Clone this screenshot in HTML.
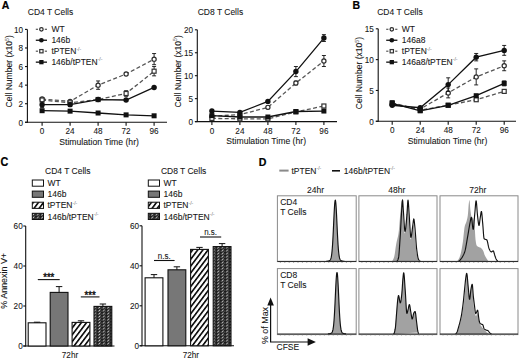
<!DOCTYPE html>
<html><head><meta charset="utf-8"><style>
html,body{margin:0;padding:0;background:#fff;width:520px;height:358px;overflow:hidden}
svg text{font-family:"Liberation Sans", sans-serif}
</style></head><body>
<svg width="520" height="358" viewBox="0 0 520 358" style="display:block">
<defs>
<pattern id="hatch" patternUnits="userSpaceOnUse" width="4.1" height="4.1" patternTransform="rotate(37)">
<rect width="4.1" height="4.1" fill="#fff"/><rect x="0" y="0" width="1.7" height="4.1" fill="#111"/></pattern>
<pattern id="check" patternUnits="userSpaceOnUse" width="4.4" height="3.0" x="0.5" y="0">
<rect width="4.4" height="3.0" fill="#1c1c1c"/><path d="M0.6,2.5 L1.8,2.5 L3.6,0.6 L2.4,0.6 Z" fill="#d8d8d8"/><rect x="3.3" y="1.7" width="0.8" height="0.8" fill="#9a9a9a"/></pattern>
</defs>
<rect width="520" height="358" fill="#fff"/>
<g font-family="Liberation Sans, sans-serif">
<text transform="translate(1.80,8.90) scale(1,1.0)" font-size="10.5" text-anchor="start" font-weight="bold" fill="#000" stroke="#000" stroke-width="0.2">A</text>
<text transform="translate(352.60,8.90) scale(1,1.0)" font-size="10.5" text-anchor="start" font-weight="bold" fill="#000" stroke="#000" stroke-width="0.2">B</text>
<text transform="translate(0.60,165.80) scale(1,1.1)" font-size="10.8" text-anchor="start" font-weight="bold" fill="#000" stroke="#000" stroke-width="0.2">C</text>
<text transform="translate(258.80,165.60) scale(1,1.1)" font-size="10.6" text-anchor="start" font-weight="bold" fill="#000" stroke="#000" stroke-width="0.2">D</text>
<line x1="27.40" y1="29.40" x2="27.40" y2="122.80" stroke="#111" stroke-width="1.1" />
<line x1="25.00" y1="122.30" x2="167.00" y2="122.30" stroke="#111" stroke-width="1.1" />
<line x1="25.00" y1="122.30" x2="27.40" y2="122.30" stroke="#111" stroke-width="1.1" />
<text transform="translate(23.10,125.50) scale(1,1.1)" font-size="8.2" text-anchor="end" font-weight="normal" fill="#161616" stroke="#161616" stroke-width="0.08">0</text>
<line x1="25.00" y1="103.72" x2="27.40" y2="103.72" stroke="#111" stroke-width="1.1" />
<text transform="translate(23.10,106.92) scale(1,1.1)" font-size="8.2" text-anchor="end" font-weight="normal" fill="#161616" stroke="#161616" stroke-width="0.08">2</text>
<line x1="25.00" y1="85.14" x2="27.40" y2="85.14" stroke="#111" stroke-width="1.1" />
<text transform="translate(23.10,88.34) scale(1,1.1)" font-size="8.2" text-anchor="end" font-weight="normal" fill="#161616" stroke="#161616" stroke-width="0.08">4</text>
<line x1="25.00" y1="66.56" x2="27.40" y2="66.56" stroke="#111" stroke-width="1.1" />
<text transform="translate(23.10,69.76) scale(1,1.1)" font-size="8.2" text-anchor="end" font-weight="normal" fill="#161616" stroke="#161616" stroke-width="0.08">6</text>
<line x1="25.00" y1="47.98" x2="27.40" y2="47.98" stroke="#111" stroke-width="1.1" />
<text transform="translate(23.10,51.18) scale(1,1.1)" font-size="8.2" text-anchor="end" font-weight="normal" fill="#161616" stroke="#161616" stroke-width="0.08">8</text>
<line x1="25.00" y1="29.40" x2="27.40" y2="29.40" stroke="#111" stroke-width="1.1" />
<text transform="translate(23.10,32.60) scale(1,1.1)" font-size="8.2" text-anchor="end" font-weight="normal" fill="#161616" stroke="#161616" stroke-width="0.08">10</text>
<line x1="42.10" y1="122.30" x2="42.10" y2="125.70" stroke="#111" stroke-width="1.1" />
<text transform="translate(42.10,134.30) scale(1,1.1)" font-size="8.2" text-anchor="middle" font-weight="normal" fill="#161616" stroke="#161616" stroke-width="0.08">0</text>
<line x1="70.10" y1="122.30" x2="70.10" y2="125.70" stroke="#111" stroke-width="1.1" />
<text transform="translate(70.10,134.30) scale(1,1.1)" font-size="8.2" text-anchor="middle" font-weight="normal" fill="#161616" stroke="#161616" stroke-width="0.08">24</text>
<line x1="98.10" y1="122.30" x2="98.10" y2="125.70" stroke="#111" stroke-width="1.1" />
<text transform="translate(98.10,134.30) scale(1,1.1)" font-size="8.2" text-anchor="middle" font-weight="normal" fill="#161616" stroke="#161616" stroke-width="0.08">48</text>
<line x1="126.10" y1="122.30" x2="126.10" y2="125.70" stroke="#111" stroke-width="1.1" />
<text transform="translate(126.10,134.30) scale(1,1.1)" font-size="8.2" text-anchor="middle" font-weight="normal" fill="#161616" stroke="#161616" stroke-width="0.08">72</text>
<line x1="154.10" y1="122.30" x2="154.10" y2="125.70" stroke="#111" stroke-width="1.1" />
<text transform="translate(154.10,134.30) scale(1,1.1)" font-size="8.2" text-anchor="middle" font-weight="normal" fill="#161616" stroke="#161616" stroke-width="0.08">96</text>
<text transform="translate(99.10,144.70) scale(1,1.1)" font-size="8.65" text-anchor="middle" font-weight="normal" fill="#161616" stroke="#161616" stroke-width="0.08">Stimulation Time (hr)</text>
<text transform="translate(27.80,15.00) scale(1,1.1)" font-size="8.5" text-anchor="start" font-weight="normal" fill="#161616" stroke="#161616" stroke-width="0.08">CD4 T Cells</text>
<text transform="translate(11.90,71.30) rotate(-90)" font-size="8.55" text-anchor="middle" fill="#161616" stroke="#161616" stroke-width="0.08">Cell Number (x10<tspan font-size="5.2" dy="-3.2" fill="#666" stroke="#666">5</tspan><tspan dy="3.2">)</tspan></text>
<polyline points="42.10,99.07 70.10,101.40 98.10,85.14 126.10,73.99 154.10,59.13" fill="none" stroke="#555" stroke-width="1.3" stroke-dasharray="4,2.4"/>
<polyline points="42.10,100.00 70.10,102.79 98.10,99.54 126.10,93.50 154.10,71.20" fill="none" stroke="#555" stroke-width="1.3" stroke-dasharray="4,2.4"/>
<polyline points="42.10,104.65 70.10,104.65 98.10,99.54 126.10,100.00 154.10,87.46" fill="none" stroke="#111" stroke-width="1.3" />
<polyline points="42.10,110.69 70.10,111.15 98.10,113.01 126.10,114.87 154.10,115.80" fill="none" stroke="#111" stroke-width="1.3" />
<line x1="42.10" y1="98.15" x2="42.10" y2="100.00" stroke="#111" stroke-width="0.9" />
<line x1="40.10" y1="98.15" x2="44.10" y2="98.15" stroke="#111" stroke-width="0.9" />
<line x1="40.10" y1="100.00" x2="44.10" y2="100.00" stroke="#111" stroke-width="0.9" />
<circle cx="42.10" cy="99.07" r="2.10" fill="#fff" stroke="#2a2a2a" stroke-width="1.2"/>
<line x1="70.10" y1="100.47" x2="70.10" y2="102.33" stroke="#111" stroke-width="0.9" />
<line x1="68.10" y1="100.47" x2="72.10" y2="100.47" stroke="#111" stroke-width="0.9" />
<line x1="68.10" y1="102.33" x2="72.10" y2="102.33" stroke="#111" stroke-width="0.9" />
<circle cx="70.10" cy="101.40" r="2.10" fill="#fff" stroke="#2a2a2a" stroke-width="1.2"/>
<line x1="98.10" y1="80.96" x2="98.10" y2="89.32" stroke="#111" stroke-width="0.9" />
<line x1="96.10" y1="80.96" x2="100.10" y2="80.96" stroke="#111" stroke-width="0.9" />
<line x1="96.10" y1="89.32" x2="100.10" y2="89.32" stroke="#111" stroke-width="0.9" />
<circle cx="98.10" cy="85.14" r="2.10" fill="#fff" stroke="#2a2a2a" stroke-width="1.2"/>
<line x1="126.10" y1="72.60" x2="126.10" y2="75.39" stroke="#111" stroke-width="0.9" />
<line x1="124.10" y1="72.60" x2="128.10" y2="72.60" stroke="#111" stroke-width="0.9" />
<line x1="124.10" y1="75.39" x2="128.10" y2="75.39" stroke="#111" stroke-width="0.9" />
<circle cx="126.10" cy="73.99" r="2.10" fill="#fff" stroke="#2a2a2a" stroke-width="1.2"/>
<line x1="154.10" y1="53.55" x2="154.10" y2="64.70" stroke="#111" stroke-width="0.9" />
<line x1="152.10" y1="53.55" x2="156.10" y2="53.55" stroke="#111" stroke-width="0.9" />
<line x1="152.10" y1="64.70" x2="156.10" y2="64.70" stroke="#111" stroke-width="0.9" />
<circle cx="154.10" cy="59.13" r="2.10" fill="#fff" stroke="#2a2a2a" stroke-width="1.2"/>
<line x1="42.10" y1="99.07" x2="42.10" y2="100.93" stroke="#111" stroke-width="0.9" />
<line x1="40.10" y1="99.07" x2="44.10" y2="99.07" stroke="#111" stroke-width="0.9" />
<line x1="40.10" y1="100.93" x2="44.10" y2="100.93" stroke="#111" stroke-width="0.9" />
<rect x="40.10" y="98.00" width="4.00" height="4.00" fill="#fff" stroke="#333" stroke-width="1.2"/>
<line x1="70.10" y1="101.86" x2="70.10" y2="103.72" stroke="#111" stroke-width="0.9" />
<line x1="68.10" y1="101.86" x2="72.10" y2="101.86" stroke="#111" stroke-width="0.9" />
<line x1="68.10" y1="103.72" x2="72.10" y2="103.72" stroke="#111" stroke-width="0.9" />
<rect x="68.10" y="100.79" width="4.00" height="4.00" fill="#fff" stroke="#333" stroke-width="1.2"/>
<line x1="98.10" y1="98.61" x2="98.10" y2="100.47" stroke="#111" stroke-width="0.9" />
<line x1="96.10" y1="98.61" x2="100.10" y2="98.61" stroke="#111" stroke-width="0.9" />
<line x1="96.10" y1="100.47" x2="100.10" y2="100.47" stroke="#111" stroke-width="0.9" />
<rect x="96.10" y="97.54" width="4.00" height="4.00" fill="#fff" stroke="#333" stroke-width="1.2"/>
<line x1="126.10" y1="90.71" x2="126.10" y2="96.29" stroke="#111" stroke-width="0.9" />
<line x1="124.10" y1="90.71" x2="128.10" y2="90.71" stroke="#111" stroke-width="0.9" />
<line x1="124.10" y1="96.29" x2="128.10" y2="96.29" stroke="#111" stroke-width="0.9" />
<rect x="124.10" y="91.50" width="4.00" height="4.00" fill="#fff" stroke="#333" stroke-width="1.2"/>
<line x1="154.10" y1="66.56" x2="154.10" y2="75.85" stroke="#111" stroke-width="0.9" />
<line x1="152.10" y1="66.56" x2="156.10" y2="66.56" stroke="#111" stroke-width="0.9" />
<line x1="152.10" y1="75.85" x2="156.10" y2="75.85" stroke="#111" stroke-width="0.9" />
<rect x="152.10" y="69.20" width="4.00" height="4.00" fill="#fff" stroke="#333" stroke-width="1.2"/>
<line x1="42.10" y1="101.86" x2="42.10" y2="107.44" stroke="#111" stroke-width="0.9" />
<line x1="40.10" y1="101.86" x2="44.10" y2="101.86" stroke="#111" stroke-width="0.9" />
<line x1="40.10" y1="107.44" x2="44.10" y2="107.44" stroke="#111" stroke-width="0.9" />
<circle cx="42.10" cy="104.65" r="2.70" fill="#111"/>
<line x1="70.10" y1="102.79" x2="70.10" y2="106.51" stroke="#111" stroke-width="0.9" />
<line x1="68.10" y1="102.79" x2="72.10" y2="102.79" stroke="#111" stroke-width="0.9" />
<line x1="68.10" y1="106.51" x2="72.10" y2="106.51" stroke="#111" stroke-width="0.9" />
<circle cx="70.10" cy="104.65" r="2.70" fill="#111"/>
<line x1="98.10" y1="98.61" x2="98.10" y2="100.47" stroke="#111" stroke-width="0.9" />
<line x1="96.10" y1="98.61" x2="100.10" y2="98.61" stroke="#111" stroke-width="0.9" />
<line x1="96.10" y1="100.47" x2="100.10" y2="100.47" stroke="#111" stroke-width="0.9" />
<circle cx="98.10" cy="99.54" r="2.70" fill="#111"/>
<line x1="126.10" y1="99.07" x2="126.10" y2="100.93" stroke="#111" stroke-width="0.9" />
<line x1="124.10" y1="99.07" x2="128.10" y2="99.07" stroke="#111" stroke-width="0.9" />
<line x1="124.10" y1="100.93" x2="128.10" y2="100.93" stroke="#111" stroke-width="0.9" />
<circle cx="126.10" cy="100.00" r="2.70" fill="#111"/>
<line x1="154.10" y1="86.53" x2="154.10" y2="88.39" stroke="#111" stroke-width="0.9" />
<line x1="152.10" y1="86.53" x2="156.10" y2="86.53" stroke="#111" stroke-width="0.9" />
<line x1="152.10" y1="88.39" x2="156.10" y2="88.39" stroke="#111" stroke-width="0.9" />
<circle cx="154.10" cy="87.46" r="2.70" fill="#111"/>
<line x1="42.10" y1="109.76" x2="42.10" y2="111.62" stroke="#111" stroke-width="0.9" />
<line x1="40.10" y1="109.76" x2="44.10" y2="109.76" stroke="#111" stroke-width="0.9" />
<line x1="40.10" y1="111.62" x2="44.10" y2="111.62" stroke="#111" stroke-width="0.9" />
<rect x="39.60" y="108.19" width="5.00" height="5.00" fill="#111"/>
<rect x="67.60" y="108.65" width="5.00" height="5.00" fill="#111"/>
<rect x="95.60" y="110.51" width="5.00" height="5.00" fill="#111"/>
<rect x="123.60" y="112.37" width="5.00" height="5.00" fill="#111"/>
<rect x="151.60" y="113.30" width="5.00" height="5.00" fill="#111"/>
<line x1="35.80" y1="29.30" x2="38.00" y2="29.30" stroke="#555" stroke-width="1.2" />
<line x1="44.80" y1="29.30" x2="47.00" y2="29.30" stroke="#555" stroke-width="1.2" />
<circle cx="41.40" cy="29.30" r="1.75" fill="#fff" stroke="#2a2a2a" stroke-width="1.2"/>
<text transform="translate(51.40,32.15) scale(1,1.1)" font-size="8.5" text-anchor="start" font-weight="normal" fill="#161616" stroke="#161616" stroke-width="0.08">WT</text>
<line x1="35.80" y1="40.25" x2="47.00" y2="40.25" stroke="#111" stroke-width="1.3" />
<circle cx="41.40" cy="40.25" r="2.35" fill="#111"/>
<text transform="translate(51.40,43.10) scale(1,1.1)" font-size="8.5" text-anchor="start" font-weight="normal" fill="#161616" stroke="#161616" stroke-width="0.08">146b</text>
<line x1="35.80" y1="51.20" x2="38.00" y2="51.20" stroke="#555" stroke-width="1.2" />
<line x1="44.80" y1="51.20" x2="47.00" y2="51.20" stroke="#555" stroke-width="1.2" />
<rect x="39.75" y="49.55" width="3.30" height="3.30" fill="#fff" stroke="#333" stroke-width="1.2"/>
<text transform="translate(51.40,54.05) scale(1,1.1)" font-size="8.5" text-anchor="start" font-weight="normal" fill="#161616" stroke="#161616" stroke-width="0.08">tPTEN<tspan font-size="5.10" dy="-3.23" fill="#8a8a8a" stroke="#8a8a8a">-/-</tspan></text>
<line x1="35.80" y1="62.15" x2="47.00" y2="62.15" stroke="#111" stroke-width="1.3" />
<rect x="39.25" y="60.00" width="4.30" height="4.30" fill="#111"/>
<text transform="translate(51.40,65.00) scale(1,1.1)" font-size="8.5" text-anchor="start" font-weight="normal" fill="#161616" stroke="#161616" stroke-width="0.08">146b/tPTEN<tspan font-size="5.10" dy="-3.23" fill="#8a8a8a" stroke="#8a8a8a">-/-</tspan></text>
<line x1="197.30" y1="29.80" x2="197.30" y2="122.10" stroke="#111" stroke-width="1.1" />
<line x1="194.90" y1="121.60" x2="337.00" y2="121.60" stroke="#111" stroke-width="1.1" />
<line x1="194.90" y1="121.60" x2="197.30" y2="121.60" stroke="#111" stroke-width="1.1" />
<text transform="translate(193.00,124.80) scale(1,1.1)" font-size="8.2" text-anchor="end" font-weight="normal" fill="#161616" stroke="#161616" stroke-width="0.08">0</text>
<line x1="194.90" y1="98.65" x2="197.30" y2="98.65" stroke="#111" stroke-width="1.1" />
<text transform="translate(193.00,101.85) scale(1,1.1)" font-size="8.2" text-anchor="end" font-weight="normal" fill="#161616" stroke="#161616" stroke-width="0.08">5</text>
<line x1="194.90" y1="75.70" x2="197.30" y2="75.70" stroke="#111" stroke-width="1.1" />
<text transform="translate(193.00,78.90) scale(1,1.1)" font-size="8.2" text-anchor="end" font-weight="normal" fill="#161616" stroke="#161616" stroke-width="0.08">10</text>
<line x1="194.90" y1="52.75" x2="197.30" y2="52.75" stroke="#111" stroke-width="1.1" />
<text transform="translate(193.00,55.95) scale(1,1.1)" font-size="8.2" text-anchor="end" font-weight="normal" fill="#161616" stroke="#161616" stroke-width="0.08">15</text>
<line x1="194.90" y1="29.80" x2="197.30" y2="29.80" stroke="#111" stroke-width="1.1" />
<text transform="translate(193.00,33.00) scale(1,1.1)" font-size="8.2" text-anchor="end" font-weight="normal" fill="#161616" stroke="#161616" stroke-width="0.08">20</text>
<line x1="211.90" y1="121.60" x2="211.90" y2="125.00" stroke="#111" stroke-width="1.1" />
<text transform="translate(211.90,133.60) scale(1,1.1)" font-size="8.2" text-anchor="middle" font-weight="normal" fill="#161616" stroke="#161616" stroke-width="0.08">0</text>
<line x1="239.90" y1="121.60" x2="239.90" y2="125.00" stroke="#111" stroke-width="1.1" />
<text transform="translate(239.90,133.60) scale(1,1.1)" font-size="8.2" text-anchor="middle" font-weight="normal" fill="#161616" stroke="#161616" stroke-width="0.08">24</text>
<line x1="267.90" y1="121.60" x2="267.90" y2="125.00" stroke="#111" stroke-width="1.1" />
<text transform="translate(267.90,133.60) scale(1,1.1)" font-size="8.2" text-anchor="middle" font-weight="normal" fill="#161616" stroke="#161616" stroke-width="0.08">48</text>
<line x1="295.90" y1="121.60" x2="295.90" y2="125.00" stroke="#111" stroke-width="1.1" />
<text transform="translate(295.90,133.60) scale(1,1.1)" font-size="8.2" text-anchor="middle" font-weight="normal" fill="#161616" stroke="#161616" stroke-width="0.08">72</text>
<line x1="323.90" y1="121.60" x2="323.90" y2="125.00" stroke="#111" stroke-width="1.1" />
<text transform="translate(323.90,133.60) scale(1,1.1)" font-size="8.2" text-anchor="middle" font-weight="normal" fill="#161616" stroke="#161616" stroke-width="0.08">96</text>
<text transform="translate(266.20,144.00) scale(1,1.1)" font-size="8.65" text-anchor="middle" font-weight="normal" fill="#161616" stroke="#161616" stroke-width="0.08">Stimulation Time (hr)</text>
<text transform="translate(197.70,15.00) scale(1,1.1)" font-size="8.5" text-anchor="start" font-weight="normal" fill="#161616" stroke="#161616" stroke-width="0.08">CD8 T Cells</text>
<text transform="translate(180.60,71.30) rotate(-90)" font-size="8.55" text-anchor="middle" fill="#161616" stroke="#161616" stroke-width="0.08">Cell Number (x10<tspan font-size="5.2" dy="-3.2" fill="#666" stroke="#666">5</tspan><tspan dy="3.2">)</tspan></text>
<polyline points="211.90,116.09 239.90,114.71 267.90,107.37 295.90,83.04 323.90,61.01" fill="none" stroke="#555" stroke-width="1.3" stroke-dasharray="4,2.4"/>
<polyline points="211.90,118.39 239.90,118.85 267.90,118.85 295.90,111.96 323.90,105.99" fill="none" stroke="#555" stroke-width="1.3" stroke-dasharray="4,2.4"/>
<polyline points="211.90,111.04 239.90,112.42 267.90,101.40 295.90,71.57 323.90,38.06" fill="none" stroke="#111" stroke-width="1.3" />
<polyline points="211.90,115.63 239.90,117.01 267.90,117.01 295.90,111.50 323.90,111.04" fill="none" stroke="#111" stroke-width="1.3" />
<line x1="211.90" y1="115.17" x2="211.90" y2="117.01" stroke="#111" stroke-width="0.9" />
<line x1="209.90" y1="115.17" x2="213.90" y2="115.17" stroke="#111" stroke-width="0.9" />
<line x1="209.90" y1="117.01" x2="213.90" y2="117.01" stroke="#111" stroke-width="0.9" />
<circle cx="211.90" cy="116.09" r="2.10" fill="#fff" stroke="#2a2a2a" stroke-width="1.2"/>
<line x1="239.90" y1="113.80" x2="239.90" y2="115.63" stroke="#111" stroke-width="0.9" />
<line x1="237.90" y1="113.80" x2="241.90" y2="113.80" stroke="#111" stroke-width="0.9" />
<line x1="237.90" y1="115.63" x2="241.90" y2="115.63" stroke="#111" stroke-width="0.9" />
<circle cx="239.90" cy="114.71" r="2.10" fill="#fff" stroke="#2a2a2a" stroke-width="1.2"/>
<line x1="267.90" y1="105.99" x2="267.90" y2="108.75" stroke="#111" stroke-width="0.9" />
<line x1="265.90" y1="105.99" x2="269.90" y2="105.99" stroke="#111" stroke-width="0.9" />
<line x1="265.90" y1="108.75" x2="269.90" y2="108.75" stroke="#111" stroke-width="0.9" />
<circle cx="267.90" cy="107.37" r="2.10" fill="#fff" stroke="#2a2a2a" stroke-width="1.2"/>
<line x1="295.90" y1="81.21" x2="295.90" y2="84.88" stroke="#111" stroke-width="0.9" />
<line x1="293.90" y1="81.21" x2="297.90" y2="81.21" stroke="#111" stroke-width="0.9" />
<line x1="293.90" y1="84.88" x2="297.90" y2="84.88" stroke="#111" stroke-width="0.9" />
<circle cx="295.90" cy="83.04" r="2.10" fill="#fff" stroke="#2a2a2a" stroke-width="1.2"/>
<line x1="323.90" y1="55.50" x2="323.90" y2="66.52" stroke="#111" stroke-width="0.9" />
<line x1="321.90" y1="55.50" x2="325.90" y2="55.50" stroke="#111" stroke-width="0.9" />
<line x1="321.90" y1="66.52" x2="325.90" y2="66.52" stroke="#111" stroke-width="0.9" />
<circle cx="323.90" cy="61.01" r="2.10" fill="#fff" stroke="#2a2a2a" stroke-width="1.2"/>
<line x1="211.90" y1="117.93" x2="211.90" y2="118.85" stroke="#111" stroke-width="0.9" />
<line x1="209.90" y1="117.93" x2="213.90" y2="117.93" stroke="#111" stroke-width="0.9" />
<line x1="209.90" y1="118.85" x2="213.90" y2="118.85" stroke="#111" stroke-width="0.9" />
<rect x="209.90" y="116.39" width="4.00" height="4.00" fill="#fff" stroke="#333" stroke-width="1.2"/>
<line x1="239.90" y1="118.39" x2="239.90" y2="119.30" stroke="#111" stroke-width="0.9" />
<line x1="237.90" y1="118.39" x2="241.90" y2="118.39" stroke="#111" stroke-width="0.9" />
<line x1="237.90" y1="119.30" x2="241.90" y2="119.30" stroke="#111" stroke-width="0.9" />
<rect x="237.90" y="116.85" width="4.00" height="4.00" fill="#fff" stroke="#333" stroke-width="1.2"/>
<line x1="267.90" y1="118.39" x2="267.90" y2="119.30" stroke="#111" stroke-width="0.9" />
<line x1="265.90" y1="118.39" x2="269.90" y2="118.39" stroke="#111" stroke-width="0.9" />
<line x1="265.90" y1="119.30" x2="269.90" y2="119.30" stroke="#111" stroke-width="0.9" />
<rect x="265.90" y="116.85" width="4.00" height="4.00" fill="#fff" stroke="#333" stroke-width="1.2"/>
<line x1="295.90" y1="111.04" x2="295.90" y2="112.88" stroke="#111" stroke-width="0.9" />
<line x1="293.90" y1="111.04" x2="297.90" y2="111.04" stroke="#111" stroke-width="0.9" />
<line x1="293.90" y1="112.88" x2="297.90" y2="112.88" stroke="#111" stroke-width="0.9" />
<rect x="293.90" y="109.96" width="4.00" height="4.00" fill="#fff" stroke="#333" stroke-width="1.2"/>
<line x1="323.90" y1="104.62" x2="323.90" y2="107.37" stroke="#111" stroke-width="0.9" />
<line x1="321.90" y1="104.62" x2="325.90" y2="104.62" stroke="#111" stroke-width="0.9" />
<line x1="321.90" y1="107.37" x2="325.90" y2="107.37" stroke="#111" stroke-width="0.9" />
<rect x="321.90" y="103.99" width="4.00" height="4.00" fill="#fff" stroke="#333" stroke-width="1.2"/>
<line x1="211.90" y1="110.58" x2="211.90" y2="111.50" stroke="#111" stroke-width="0.9" />
<line x1="209.90" y1="110.58" x2="213.90" y2="110.58" stroke="#111" stroke-width="0.9" />
<line x1="209.90" y1="111.50" x2="213.90" y2="111.50" stroke="#111" stroke-width="0.9" />
<circle cx="211.90" cy="111.04" r="2.70" fill="#111"/>
<line x1="239.90" y1="111.96" x2="239.90" y2="112.88" stroke="#111" stroke-width="0.9" />
<line x1="237.90" y1="111.96" x2="241.90" y2="111.96" stroke="#111" stroke-width="0.9" />
<line x1="237.90" y1="112.88" x2="241.90" y2="112.88" stroke="#111" stroke-width="0.9" />
<circle cx="239.90" cy="112.42" r="2.70" fill="#111"/>
<line x1="267.90" y1="100.49" x2="267.90" y2="102.32" stroke="#111" stroke-width="0.9" />
<line x1="265.90" y1="100.49" x2="269.90" y2="100.49" stroke="#111" stroke-width="0.9" />
<line x1="265.90" y1="102.32" x2="269.90" y2="102.32" stroke="#111" stroke-width="0.9" />
<circle cx="267.90" cy="101.40" r="2.70" fill="#111"/>
<line x1="295.90" y1="66.52" x2="295.90" y2="76.62" stroke="#111" stroke-width="0.9" />
<line x1="293.90" y1="66.52" x2="297.90" y2="66.52" stroke="#111" stroke-width="0.9" />
<line x1="293.90" y1="76.62" x2="297.90" y2="76.62" stroke="#111" stroke-width="0.9" />
<circle cx="295.90" cy="71.57" r="2.70" fill="#111"/>
<line x1="323.90" y1="34.62" x2="323.90" y2="41.50" stroke="#111" stroke-width="0.9" />
<line x1="321.90" y1="34.62" x2="325.90" y2="34.62" stroke="#111" stroke-width="0.9" />
<line x1="321.90" y1="41.50" x2="325.90" y2="41.50" stroke="#111" stroke-width="0.9" />
<circle cx="323.90" cy="38.06" r="2.70" fill="#111"/>
<line x1="211.90" y1="114.26" x2="211.90" y2="117.01" stroke="#111" stroke-width="0.9" />
<line x1="209.90" y1="114.26" x2="213.90" y2="114.26" stroke="#111" stroke-width="0.9" />
<line x1="209.90" y1="117.01" x2="213.90" y2="117.01" stroke="#111" stroke-width="0.9" />
<rect x="209.40" y="113.13" width="5.00" height="5.00" fill="#111"/>
<line x1="239.90" y1="116.09" x2="239.90" y2="117.93" stroke="#111" stroke-width="0.9" />
<line x1="237.90" y1="116.09" x2="241.90" y2="116.09" stroke="#111" stroke-width="0.9" />
<line x1="237.90" y1="117.93" x2="241.90" y2="117.93" stroke="#111" stroke-width="0.9" />
<rect x="237.40" y="114.51" width="5.00" height="5.00" fill="#111"/>
<line x1="267.90" y1="116.55" x2="267.90" y2="117.47" stroke="#111" stroke-width="0.9" />
<line x1="265.90" y1="116.55" x2="269.90" y2="116.55" stroke="#111" stroke-width="0.9" />
<line x1="265.90" y1="117.47" x2="269.90" y2="117.47" stroke="#111" stroke-width="0.9" />
<rect x="265.40" y="114.51" width="5.00" height="5.00" fill="#111"/>
<line x1="295.90" y1="110.58" x2="295.90" y2="112.42" stroke="#111" stroke-width="0.9" />
<line x1="293.90" y1="110.58" x2="297.90" y2="110.58" stroke="#111" stroke-width="0.9" />
<line x1="293.90" y1="112.42" x2="297.90" y2="112.42" stroke="#111" stroke-width="0.9" />
<rect x="293.40" y="109.00" width="5.00" height="5.00" fill="#111"/>
<line x1="323.90" y1="110.12" x2="323.90" y2="111.96" stroke="#111" stroke-width="0.9" />
<line x1="321.90" y1="110.12" x2="325.90" y2="110.12" stroke="#111" stroke-width="0.9" />
<line x1="321.90" y1="111.96" x2="325.90" y2="111.96" stroke="#111" stroke-width="0.9" />
<rect x="321.40" y="108.54" width="5.00" height="5.00" fill="#111"/>
<line x1="378.20" y1="28.80" x2="378.20" y2="121.80" stroke="#111" stroke-width="1.1" />
<line x1="375.80" y1="121.30" x2="516.00" y2="121.30" stroke="#111" stroke-width="1.1" />
<line x1="375.80" y1="121.30" x2="378.20" y2="121.30" stroke="#111" stroke-width="1.1" />
<text transform="translate(373.90,124.50) scale(1,1.1)" font-size="8.2" text-anchor="end" font-weight="normal" fill="#161616" stroke="#161616" stroke-width="0.08">0</text>
<line x1="375.80" y1="90.47" x2="378.20" y2="90.47" stroke="#111" stroke-width="1.1" />
<text transform="translate(373.90,93.67) scale(1,1.1)" font-size="8.2" text-anchor="end" font-weight="normal" fill="#161616" stroke="#161616" stroke-width="0.08">5</text>
<line x1="375.80" y1="59.63" x2="378.20" y2="59.63" stroke="#111" stroke-width="1.1" />
<text transform="translate(373.90,62.83) scale(1,1.1)" font-size="8.2" text-anchor="end" font-weight="normal" fill="#161616" stroke="#161616" stroke-width="0.08">10</text>
<line x1="375.80" y1="28.80" x2="378.20" y2="28.80" stroke="#111" stroke-width="1.1" />
<text transform="translate(373.90,32.00) scale(1,1.1)" font-size="8.2" text-anchor="end" font-weight="normal" fill="#161616" stroke="#161616" stroke-width="0.08">15</text>
<line x1="392.20" y1="121.30" x2="392.20" y2="124.70" stroke="#111" stroke-width="1.1" />
<text transform="translate(392.20,133.30) scale(1,1.1)" font-size="8.2" text-anchor="middle" font-weight="normal" fill="#161616" stroke="#161616" stroke-width="0.08">0</text>
<line x1="420.20" y1="121.30" x2="420.20" y2="124.70" stroke="#111" stroke-width="1.1" />
<text transform="translate(420.20,133.30) scale(1,1.1)" font-size="8.2" text-anchor="middle" font-weight="normal" fill="#161616" stroke="#161616" stroke-width="0.08">24</text>
<line x1="448.20" y1="121.30" x2="448.20" y2="124.70" stroke="#111" stroke-width="1.1" />
<text transform="translate(448.20,133.30) scale(1,1.1)" font-size="8.2" text-anchor="middle" font-weight="normal" fill="#161616" stroke="#161616" stroke-width="0.08">48</text>
<line x1="476.20" y1="121.30" x2="476.20" y2="124.70" stroke="#111" stroke-width="1.1" />
<text transform="translate(476.20,133.30) scale(1,1.1)" font-size="8.2" text-anchor="middle" font-weight="normal" fill="#161616" stroke="#161616" stroke-width="0.08">72</text>
<line x1="504.20" y1="121.30" x2="504.20" y2="124.70" stroke="#111" stroke-width="1.1" />
<text transform="translate(504.20,133.30) scale(1,1.1)" font-size="8.2" text-anchor="middle" font-weight="normal" fill="#161616" stroke="#161616" stroke-width="0.08">96</text>
<text transform="translate(447.50,143.70) scale(1,1.1)" font-size="8.65" text-anchor="middle" font-weight="normal" fill="#161616" stroke="#161616" stroke-width="0.08">Stimulation Time (hr)</text>
<text transform="translate(377.20,15.00) scale(1,1.1)" font-size="8.5" text-anchor="start" font-weight="normal" fill="#161616" stroke="#161616" stroke-width="0.08">CD4 T Cells</text>
<text transform="translate(361.80,73.10) rotate(-90)" font-size="8.55" text-anchor="middle" fill="#161616" stroke="#161616" stroke-width="0.08">Cell Number (x10<tspan font-size="5.2" dy="-3.2" fill="#666" stroke="#666">5</tspan><tspan dy="3.2">)</tspan></text>
<polyline points="392.20,104.03 420.20,108.97 448.20,92.93 476.20,76.90 504.20,65.80" fill="none" stroke="#555" stroke-width="1.3" stroke-dasharray="4,2.4"/>
<polyline points="392.20,102.80 420.20,110.20 448.20,105.27 476.20,99.72 504.20,91.39" fill="none" stroke="#555" stroke-width="1.3" stroke-dasharray="4,2.4"/>
<polyline points="392.20,105.27 420.20,107.73 448.20,84.61 476.20,57.17 504.20,50.38" fill="none" stroke="#111" stroke-width="1.3" />
<polyline points="392.20,103.42 420.20,110.82 448.20,105.27 476.20,95.71 504.20,83.38" fill="none" stroke="#111" stroke-width="1.3" />
<line x1="392.20" y1="102.80" x2="392.20" y2="105.27" stroke="#111" stroke-width="0.9" />
<line x1="390.20" y1="102.80" x2="394.20" y2="102.80" stroke="#111" stroke-width="0.9" />
<line x1="390.20" y1="105.27" x2="394.20" y2="105.27" stroke="#111" stroke-width="0.9" />
<circle cx="392.20" cy="104.03" r="2.10" fill="#fff" stroke="#2a2a2a" stroke-width="1.2"/>
<line x1="420.20" y1="107.73" x2="420.20" y2="110.20" stroke="#111" stroke-width="0.9" />
<line x1="418.20" y1="107.73" x2="422.20" y2="107.73" stroke="#111" stroke-width="0.9" />
<line x1="418.20" y1="110.20" x2="422.20" y2="110.20" stroke="#111" stroke-width="0.9" />
<circle cx="420.20" cy="108.97" r="2.10" fill="#fff" stroke="#2a2a2a" stroke-width="1.2"/>
<line x1="448.20" y1="88.00" x2="448.20" y2="97.87" stroke="#111" stroke-width="0.9" />
<line x1="446.20" y1="88.00" x2="450.20" y2="88.00" stroke="#111" stroke-width="0.9" />
<line x1="446.20" y1="97.87" x2="450.20" y2="97.87" stroke="#111" stroke-width="0.9" />
<circle cx="448.20" cy="92.93" r="2.10" fill="#fff" stroke="#2a2a2a" stroke-width="1.2"/>
<line x1="476.20" y1="68.88" x2="476.20" y2="84.92" stroke="#111" stroke-width="0.9" />
<line x1="474.20" y1="68.88" x2="478.20" y2="68.88" stroke="#111" stroke-width="0.9" />
<line x1="474.20" y1="84.92" x2="478.20" y2="84.92" stroke="#111" stroke-width="0.9" />
<circle cx="476.20" cy="76.90" r="2.10" fill="#fff" stroke="#2a2a2a" stroke-width="1.2"/>
<line x1="504.20" y1="60.87" x2="504.20" y2="70.73" stroke="#111" stroke-width="0.9" />
<line x1="502.20" y1="60.87" x2="506.20" y2="60.87" stroke="#111" stroke-width="0.9" />
<line x1="502.20" y1="70.73" x2="506.20" y2="70.73" stroke="#111" stroke-width="0.9" />
<circle cx="504.20" cy="65.80" r="2.10" fill="#fff" stroke="#2a2a2a" stroke-width="1.2"/>
<line x1="392.20" y1="101.57" x2="392.20" y2="104.03" stroke="#111" stroke-width="0.9" />
<line x1="390.20" y1="101.57" x2="394.20" y2="101.57" stroke="#111" stroke-width="0.9" />
<line x1="390.20" y1="104.03" x2="394.20" y2="104.03" stroke="#111" stroke-width="0.9" />
<rect x="390.20" y="100.80" width="4.00" height="4.00" fill="#fff" stroke="#333" stroke-width="1.2"/>
<line x1="420.20" y1="109.58" x2="420.20" y2="110.82" stroke="#111" stroke-width="0.9" />
<line x1="418.20" y1="109.58" x2="422.20" y2="109.58" stroke="#111" stroke-width="0.9" />
<line x1="418.20" y1="110.82" x2="422.20" y2="110.82" stroke="#111" stroke-width="0.9" />
<rect x="418.20" y="108.20" width="4.00" height="4.00" fill="#fff" stroke="#333" stroke-width="1.2"/>
<line x1="448.20" y1="104.65" x2="448.20" y2="105.88" stroke="#111" stroke-width="0.9" />
<line x1="446.20" y1="104.65" x2="450.20" y2="104.65" stroke="#111" stroke-width="0.9" />
<line x1="446.20" y1="105.88" x2="450.20" y2="105.88" stroke="#111" stroke-width="0.9" />
<rect x="446.20" y="103.27" width="4.00" height="4.00" fill="#fff" stroke="#333" stroke-width="1.2"/>
<line x1="476.20" y1="98.48" x2="476.20" y2="100.95" stroke="#111" stroke-width="0.9" />
<line x1="474.20" y1="98.48" x2="478.20" y2="98.48" stroke="#111" stroke-width="0.9" />
<line x1="474.20" y1="100.95" x2="478.20" y2="100.95" stroke="#111" stroke-width="0.9" />
<rect x="474.20" y="97.72" width="4.00" height="4.00" fill="#fff" stroke="#333" stroke-width="1.2"/>
<line x1="504.20" y1="89.54" x2="504.20" y2="93.24" stroke="#111" stroke-width="0.9" />
<line x1="502.20" y1="89.54" x2="506.20" y2="89.54" stroke="#111" stroke-width="0.9" />
<line x1="502.20" y1="93.24" x2="506.20" y2="93.24" stroke="#111" stroke-width="0.9" />
<rect x="502.20" y="89.39" width="4.00" height="4.00" fill="#fff" stroke="#333" stroke-width="1.2"/>
<line x1="392.20" y1="104.03" x2="392.20" y2="106.50" stroke="#111" stroke-width="0.9" />
<line x1="390.20" y1="104.03" x2="394.20" y2="104.03" stroke="#111" stroke-width="0.9" />
<line x1="390.20" y1="106.50" x2="394.20" y2="106.50" stroke="#111" stroke-width="0.9" />
<circle cx="392.20" cy="105.27" r="2.70" fill="#111"/>
<line x1="420.20" y1="106.50" x2="420.20" y2="108.97" stroke="#111" stroke-width="0.9" />
<line x1="418.20" y1="106.50" x2="422.20" y2="106.50" stroke="#111" stroke-width="0.9" />
<line x1="418.20" y1="108.97" x2="422.20" y2="108.97" stroke="#111" stroke-width="0.9" />
<circle cx="420.20" cy="107.73" r="2.70" fill="#111"/>
<line x1="448.20" y1="77.82" x2="448.20" y2="91.39" stroke="#111" stroke-width="0.9" />
<line x1="446.20" y1="77.82" x2="450.20" y2="77.82" stroke="#111" stroke-width="0.9" />
<line x1="446.20" y1="91.39" x2="450.20" y2="91.39" stroke="#111" stroke-width="0.9" />
<circle cx="448.20" cy="84.61" r="2.70" fill="#111"/>
<line x1="476.20" y1="53.47" x2="476.20" y2="60.87" stroke="#111" stroke-width="0.9" />
<line x1="474.20" y1="53.47" x2="478.20" y2="53.47" stroke="#111" stroke-width="0.9" />
<line x1="474.20" y1="60.87" x2="478.20" y2="60.87" stroke="#111" stroke-width="0.9" />
<circle cx="476.20" cy="57.17" r="2.70" fill="#111"/>
<line x1="504.20" y1="45.45" x2="504.20" y2="55.32" stroke="#111" stroke-width="0.9" />
<line x1="502.20" y1="45.45" x2="506.20" y2="45.45" stroke="#111" stroke-width="0.9" />
<line x1="502.20" y1="55.32" x2="506.20" y2="55.32" stroke="#111" stroke-width="0.9" />
<circle cx="504.20" cy="50.38" r="2.70" fill="#111"/>
<line x1="392.20" y1="100.95" x2="392.20" y2="105.88" stroke="#111" stroke-width="0.9" />
<line x1="390.20" y1="100.95" x2="394.20" y2="100.95" stroke="#111" stroke-width="0.9" />
<line x1="390.20" y1="105.88" x2="394.20" y2="105.88" stroke="#111" stroke-width="0.9" />
<rect x="389.70" y="100.92" width="5.00" height="5.00" fill="#111"/>
<line x1="420.20" y1="109.58" x2="420.20" y2="112.05" stroke="#111" stroke-width="0.9" />
<line x1="418.20" y1="109.58" x2="422.20" y2="109.58" stroke="#111" stroke-width="0.9" />
<line x1="418.20" y1="112.05" x2="422.20" y2="112.05" stroke="#111" stroke-width="0.9" />
<rect x="417.70" y="108.32" width="5.00" height="5.00" fill="#111"/>
<line x1="448.20" y1="104.65" x2="448.20" y2="105.88" stroke="#111" stroke-width="0.9" />
<line x1="446.20" y1="104.65" x2="450.20" y2="104.65" stroke="#111" stroke-width="0.9" />
<line x1="446.20" y1="105.88" x2="450.20" y2="105.88" stroke="#111" stroke-width="0.9" />
<rect x="445.70" y="102.77" width="5.00" height="5.00" fill="#111"/>
<line x1="476.20" y1="94.47" x2="476.20" y2="96.94" stroke="#111" stroke-width="0.9" />
<line x1="474.20" y1="94.47" x2="478.20" y2="94.47" stroke="#111" stroke-width="0.9" />
<line x1="474.20" y1="96.94" x2="478.20" y2="96.94" stroke="#111" stroke-width="0.9" />
<rect x="473.70" y="93.21" width="5.00" height="5.00" fill="#111"/>
<line x1="504.20" y1="80.91" x2="504.20" y2="85.84" stroke="#111" stroke-width="0.9" />
<line x1="502.20" y1="80.91" x2="506.20" y2="80.91" stroke="#111" stroke-width="0.9" />
<line x1="502.20" y1="85.84" x2="506.20" y2="85.84" stroke="#111" stroke-width="0.9" />
<rect x="501.70" y="80.88" width="5.00" height="5.00" fill="#111"/>
<line x1="386.20" y1="29.30" x2="388.40" y2="29.30" stroke="#555" stroke-width="1.2" />
<line x1="395.20" y1="29.30" x2="397.40" y2="29.30" stroke="#555" stroke-width="1.2" />
<circle cx="391.80" cy="29.30" r="1.75" fill="#fff" stroke="#2a2a2a" stroke-width="1.2"/>
<text transform="translate(401.80,32.15) scale(1,1.1)" font-size="8.5" text-anchor="start" font-weight="normal" fill="#161616" stroke="#161616" stroke-width="0.08">WT</text>
<line x1="386.20" y1="40.25" x2="397.40" y2="40.25" stroke="#111" stroke-width="1.3" />
<circle cx="391.80" cy="40.25" r="2.35" fill="#111"/>
<text transform="translate(401.80,43.10) scale(1,1.1)" font-size="8.5" text-anchor="start" font-weight="normal" fill="#161616" stroke="#161616" stroke-width="0.08">146a8</text>
<line x1="386.20" y1="51.20" x2="388.40" y2="51.20" stroke="#555" stroke-width="1.2" />
<line x1="395.20" y1="51.20" x2="397.40" y2="51.20" stroke="#555" stroke-width="1.2" />
<rect x="390.15" y="49.55" width="3.30" height="3.30" fill="#fff" stroke="#333" stroke-width="1.2"/>
<text transform="translate(401.80,54.05) scale(1,1.1)" font-size="8.5" text-anchor="start" font-weight="normal" fill="#161616" stroke="#161616" stroke-width="0.08">tPTEN<tspan font-size="5.10" dy="-3.23" fill="#8a8a8a" stroke="#8a8a8a">-/-</tspan></text>
<line x1="386.20" y1="62.15" x2="397.40" y2="62.15" stroke="#111" stroke-width="1.3" />
<rect x="389.65" y="60.00" width="4.30" height="4.30" fill="#111"/>
<text transform="translate(401.80,65.00) scale(1,1.1)" font-size="8.5" text-anchor="start" font-weight="normal" fill="#161616" stroke="#161616" stroke-width="0.08">146a8/tPTEN<tspan font-size="5.10" dy="-3.23" fill="#8a8a8a" stroke="#8a8a8a">-/-</tspan></text>
<line x1="25.70" y1="226.00" x2="25.70" y2="346.50" stroke="#111" stroke-width="1.1" />
<line x1="23.30" y1="346.00" x2="114.50" y2="346.00" stroke="#111" stroke-width="1.1" />
<line x1="23.30" y1="346.00" x2="25.70" y2="346.00" stroke="#111" stroke-width="1.1" />
<text transform="translate(22.70,349.00) scale(1,1.1)" font-size="8.2" text-anchor="end" font-weight="normal" fill="#161616" stroke="#161616" stroke-width="0.08">0</text>
<line x1="23.30" y1="306.00" x2="25.70" y2="306.00" stroke="#111" stroke-width="1.1" />
<text transform="translate(22.70,309.00) scale(1,1.1)" font-size="8.2" text-anchor="end" font-weight="normal" fill="#161616" stroke="#161616" stroke-width="0.08">20</text>
<line x1="23.30" y1="266.00" x2="25.70" y2="266.00" stroke="#111" stroke-width="1.1" />
<text transform="translate(22.70,269.00) scale(1,1.1)" font-size="8.2" text-anchor="end" font-weight="normal" fill="#161616" stroke="#161616" stroke-width="0.08">40</text>
<line x1="23.30" y1="226.00" x2="25.70" y2="226.00" stroke="#111" stroke-width="1.1" />
<text transform="translate(22.70,229.00) scale(1,1.1)" font-size="8.2" text-anchor="end" font-weight="normal" fill="#161616" stroke="#161616" stroke-width="0.08">60</text>
<rect x="28.20" y="322.80" width="17.80" height="23.20" fill="#fff" stroke="#111" stroke-width="1.1"/>
<line x1="37.10" y1="322.80" x2="37.10" y2="322.20" stroke="#111" stroke-width="1.0" />
<line x1="33.90" y1="322.20" x2="40.30" y2="322.20" stroke="#111" stroke-width="1.0" />
<rect x="50.20" y="292.40" width="17.80" height="53.60" fill="#777" stroke="#111" stroke-width="1.1"/>
<line x1="59.10" y1="292.40" x2="59.10" y2="286.60" stroke="#111" stroke-width="1.0" />
<line x1="55.90" y1="286.60" x2="62.30" y2="286.60" stroke="#111" stroke-width="1.0" />
<rect x="72.10" y="322.40" width="17.80" height="23.60" fill="url(#hatch)" stroke="#111" stroke-width="1.1"/>
<line x1="81.00" y1="322.40" x2="81.00" y2="320.80" stroke="#111" stroke-width="1.0" />
<line x1="77.80" y1="320.80" x2="84.20" y2="320.80" stroke="#111" stroke-width="1.0" />
<rect x="94.00" y="306.40" width="17.80" height="39.60" fill="url(#check)" stroke="#111" stroke-width="1.1"/>
<line x1="102.90" y1="306.40" x2="102.90" y2="304.00" stroke="#111" stroke-width="1.0" />
<line x1="99.70" y1="304.00" x2="106.10" y2="304.00" stroke="#111" stroke-width="1.0" />
<text transform="translate(70.00,358.00) scale(1,1.1)" font-size="8.2" text-anchor="middle" font-weight="normal" fill="#161616" stroke="#161616" stroke-width="0.08">72hr</text>
<text transform="translate(45.00,173.60) scale(1,1.1)" font-size="8.5" text-anchor="start" font-weight="normal" fill="#161616" stroke="#161616" stroke-width="0.08">CD4 T Cells</text>
<rect x="32.30" y="180.00" width="11.2" height="6.2" fill="#fff" stroke="#111" stroke-width="1.0"/>
<text transform="translate(47.50,186.20) scale(1,1.1)" font-size="8.5" text-anchor="start" font-weight="normal" fill="#161616" stroke="#161616" stroke-width="0.08">WT</text>
<rect x="32.30" y="191.10" width="11.2" height="6.2" fill="#777" stroke="#111" stroke-width="1.0"/>
<text transform="translate(47.50,197.30) scale(1,1.1)" font-size="8.5" text-anchor="start" font-weight="normal" fill="#161616" stroke="#161616" stroke-width="0.08">146b</text>
<rect x="32.30" y="202.20" width="11.2" height="6.2" fill="url(#hatch)" stroke="#111" stroke-width="1.0"/>
<text transform="translate(47.50,208.40) scale(1,1.1)" font-size="8.5" text-anchor="start" font-weight="normal" fill="#161616" stroke="#161616" stroke-width="0.08">tPTEN<tspan font-size="5.10" dy="-3.23" fill="#8a8a8a" stroke="#8a8a8a">-/-</tspan></text>
<rect x="32.30" y="213.30" width="11.2" height="6.2" fill="url(#check)" stroke="#111" stroke-width="1.0"/>
<text transform="translate(47.50,219.50) scale(1,1.1)" font-size="8.5" text-anchor="start" font-weight="normal" fill="#161616" stroke="#161616" stroke-width="0.08">146b/tPTEN<tspan font-size="5.10" dy="-3.23" fill="#8a8a8a" stroke="#8a8a8a">-/-</tspan></text>
<line x1="37.80" y1="279.60" x2="59.70" y2="279.60" stroke="#111" stroke-width="1.1" />
<text transform="translate(48.75,281.20) scale(1,1.1)" font-size="9.6" text-anchor="middle" font-weight="normal" fill="#161616" stroke="#161616" stroke-width="0.35">***</text>
<line x1="80.80" y1="296.90" x2="99.50" y2="296.90" stroke="#111" stroke-width="1.1" />
<text transform="translate(90.15,298.50) scale(1,1.1)" font-size="9.6" text-anchor="middle" font-weight="normal" fill="#161616" stroke="#161616" stroke-width="0.35">***</text>
<text transform="translate(6.70,280.80) scale(1,1.05) rotate(-90)" font-size="8.5" text-anchor="middle" font-weight="normal" fill="#161616" stroke="#161616" stroke-width="0.08">% Annexin V+</text>
<line x1="142.00" y1="225.80" x2="142.00" y2="346.30" stroke="#111" stroke-width="1.1" />
<line x1="139.60" y1="345.80" x2="234.00" y2="345.80" stroke="#111" stroke-width="1.1" />
<line x1="139.60" y1="345.80" x2="142.00" y2="345.80" stroke="#111" stroke-width="1.1" />
<text transform="translate(139.00,348.80) scale(1,1.1)" font-size="8.2" text-anchor="end" font-weight="normal" fill="#161616" stroke="#161616" stroke-width="0.08">0</text>
<line x1="139.60" y1="305.80" x2="142.00" y2="305.80" stroke="#111" stroke-width="1.1" />
<text transform="translate(139.00,308.80) scale(1,1.1)" font-size="8.2" text-anchor="end" font-weight="normal" fill="#161616" stroke="#161616" stroke-width="0.08">20</text>
<line x1="139.60" y1="265.80" x2="142.00" y2="265.80" stroke="#111" stroke-width="1.1" />
<text transform="translate(139.00,268.80) scale(1,1.1)" font-size="8.2" text-anchor="end" font-weight="normal" fill="#161616" stroke="#161616" stroke-width="0.08">40</text>
<line x1="139.60" y1="225.80" x2="142.00" y2="225.80" stroke="#111" stroke-width="1.1" />
<text transform="translate(139.00,228.80) scale(1,1.1)" font-size="8.2" text-anchor="end" font-weight="normal" fill="#161616" stroke="#161616" stroke-width="0.08">60</text>
<rect x="145.10" y="277.80" width="17.80" height="68.00" fill="#fff" stroke="#111" stroke-width="1.1"/>
<line x1="154.00" y1="277.80" x2="154.00" y2="274.60" stroke="#111" stroke-width="1.0" />
<line x1="150.80" y1="274.60" x2="157.20" y2="274.60" stroke="#111" stroke-width="1.0" />
<rect x="168.00" y="269.80" width="17.80" height="76.00" fill="#777" stroke="#111" stroke-width="1.1"/>
<line x1="176.90" y1="269.80" x2="176.90" y2="266.80" stroke="#111" stroke-width="1.0" />
<line x1="173.70" y1="266.80" x2="180.10" y2="266.80" stroke="#111" stroke-width="1.0" />
<rect x="190.60" y="249.40" width="17.80" height="96.40" fill="url(#hatch)" stroke="#111" stroke-width="1.1"/>
<line x1="199.50" y1="249.40" x2="199.50" y2="247.40" stroke="#111" stroke-width="1.0" />
<line x1="196.30" y1="247.40" x2="202.70" y2="247.40" stroke="#111" stroke-width="1.0" />
<rect x="213.20" y="246.60" width="17.80" height="99.20" fill="url(#check)" stroke="#111" stroke-width="1.1"/>
<line x1="222.10" y1="246.60" x2="222.10" y2="243.60" stroke="#111" stroke-width="1.0" />
<line x1="218.90" y1="243.60" x2="225.30" y2="243.60" stroke="#111" stroke-width="1.0" />
<text transform="translate(190.85,357.80) scale(1,1.1)" font-size="8.2" text-anchor="middle" font-weight="normal" fill="#161616" stroke="#161616" stroke-width="0.08">72hr</text>
<text transform="translate(160.90,173.60) scale(1,1.1)" font-size="8.5" text-anchor="start" font-weight="normal" fill="#161616" stroke="#161616" stroke-width="0.08">CD8 T Cells</text>
<rect x="148.30" y="180.00" width="11.2" height="6.2" fill="#fff" stroke="#111" stroke-width="1.0"/>
<text transform="translate(163.50,186.20) scale(1,1.1)" font-size="8.5" text-anchor="start" font-weight="normal" fill="#161616" stroke="#161616" stroke-width="0.08">WT</text>
<rect x="148.30" y="191.10" width="11.2" height="6.2" fill="#777" stroke="#111" stroke-width="1.0"/>
<text transform="translate(163.50,197.30) scale(1,1.1)" font-size="8.5" text-anchor="start" font-weight="normal" fill="#161616" stroke="#161616" stroke-width="0.08">146b</text>
<rect x="148.30" y="202.20" width="11.2" height="6.2" fill="url(#hatch)" stroke="#111" stroke-width="1.0"/>
<text transform="translate(163.50,208.40) scale(1,1.1)" font-size="8.5" text-anchor="start" font-weight="normal" fill="#161616" stroke="#161616" stroke-width="0.08">tPTEN<tspan font-size="5.10" dy="-3.23" fill="#8a8a8a" stroke="#8a8a8a">-/-</tspan></text>
<rect x="148.30" y="213.30" width="11.2" height="6.2" fill="url(#check)" stroke="#111" stroke-width="1.0"/>
<text transform="translate(163.50,219.50) scale(1,1.1)" font-size="8.5" text-anchor="start" font-weight="normal" fill="#161616" stroke="#161616" stroke-width="0.08">146b/tPTEN<tspan font-size="5.10" dy="-3.23" fill="#8a8a8a" stroke="#8a8a8a">-/-</tspan></text>
<line x1="154.00" y1="260.50" x2="174.60" y2="260.50" stroke="#111" stroke-width="1.1" />
<text transform="translate(164.30,258.90) scale(1,1.1)" font-size="8.0" text-anchor="middle" font-weight="normal" fill="#161616" stroke="#161616" stroke-width="0.08">n.s.</text>
<line x1="200.00" y1="237.00" x2="221.20" y2="237.00" stroke="#111" stroke-width="1.1" />
<text transform="translate(210.60,235.40) scale(1,1.1)" font-size="8.0" text-anchor="middle" font-weight="normal" fill="#161616" stroke="#161616" stroke-width="0.08">n.s.</text>
<line x1="279.30" y1="170.60" x2="288.60" y2="170.60" stroke="#8a8a8a" stroke-width="2.0" />
<text transform="translate(291.50,173.80) scale(1,1.1)" font-size="8.5" text-anchor="start" font-weight="normal" fill="#161616" stroke="#161616" stroke-width="0.08">tPTEN<tspan font-size="5.10" dy="-3.23" fill="#8a8a8a" stroke="#8a8a8a">-/-</tspan></text>
<line x1="332.00" y1="170.80" x2="340.00" y2="170.80" stroke="#111" stroke-width="1.6" />
<text transform="translate(343.80,173.80) scale(1,1.1)" font-size="8.5" text-anchor="start" font-weight="normal" fill="#161616" stroke="#161616" stroke-width="0.08">146b/tPTEN<tspan font-size="5.10" dy="-3.23" fill="#8a8a8a" stroke="#8a8a8a">-/-</tspan></text>
<text transform="translate(315.60,193.20) scale(1,1.1)" font-size="8.5" text-anchor="middle" font-weight="normal" fill="#161616" stroke="#161616" stroke-width="0.08">24hr</text>
<text transform="translate(396.75,193.20) scale(1,1.1)" font-size="8.5" text-anchor="middle" font-weight="normal" fill="#161616" stroke="#161616" stroke-width="0.08">48hr</text>
<text transform="translate(477.80,193.20) scale(1,1.1)" font-size="8.5" text-anchor="middle" font-weight="normal" fill="#161616" stroke="#161616" stroke-width="0.08">72hr</text>
<rect x="277.40" y="195.80" width="78.80" height="65.80" fill="#fff" stroke="#8a8a8a" stroke-width="1.0"/>
<rect x="358.90" y="195.80" width="78.10" height="65.80" fill="#fff" stroke="#8a8a8a" stroke-width="1.0"/>
<rect x="440.00" y="195.80" width="78.00" height="65.80" fill="#fff" stroke="#8a8a8a" stroke-width="1.0"/>
<rect x="277.40" y="268.60" width="78.80" height="66.00" fill="#fff" stroke="#8a8a8a" stroke-width="1.0"/>
<rect x="358.90" y="268.60" width="78.10" height="66.00" fill="#fff" stroke="#8a8a8a" stroke-width="1.0"/>
<rect x="440.00" y="268.60" width="78.00" height="66.00" fill="#fff" stroke="#8a8a8a" stroke-width="1.0"/>
<text transform="translate(280.20,204.60) scale(1,1.1)" font-size="8.5" text-anchor="start" font-weight="normal" fill="#161616" stroke="#161616" stroke-width="0.08">CD4</text>
<text transform="translate(280.20,214.80) scale(1,1.1)" font-size="8.5" text-anchor="start" font-weight="normal" fill="#161616" stroke="#161616" stroke-width="0.08">T Cells</text>
<text transform="translate(280.20,277.80) scale(1,1.1)" font-size="8.5" text-anchor="start" font-weight="normal" fill="#161616" stroke="#161616" stroke-width="0.08">CD8</text>
<text transform="translate(280.20,288.00) scale(1,1.1)" font-size="8.5" text-anchor="start" font-weight="normal" fill="#161616" stroke="#161616" stroke-width="0.08">T Cells</text>
<path d="M326.30,261.40 L326.55,261.29 L326.80,261.27 L327.05,261.24 L327.30,261.21 L327.55,261.18 L327.80,261.13 L328.05,261.09 L328.30,261.03 L328.55,260.97 L328.80,260.89 L329.05,260.80 L329.30,260.69 L329.55,260.55 L329.80,260.36 L330.05,260.12 L330.30,259.79 L330.55,259.34 L330.80,258.74 L331.05,257.91 L331.30,256.81 L331.55,255.36 L331.80,253.49 L332.05,251.12 L332.30,248.20 L332.55,244.70 L332.80,240.61 L333.05,235.98 L333.30,230.91 L333.55,225.55 L333.80,220.11 L334.05,214.84 L334.30,210.01 L334.55,205.89 L334.80,202.75 L335.05,200.77 L335.30,200.10 L335.55,200.77 L335.80,202.75 L336.05,205.89 L336.30,210.01 L336.55,214.84 L336.80,220.11 L337.05,225.55 L337.30,230.91 L337.55,235.98 L337.80,240.61 L338.05,244.70 L338.30,248.20 L338.55,251.12 L338.80,253.49 L339.05,255.36 L339.30,256.81 L339.55,257.91 L339.80,258.74 L340.05,259.34 L340.30,259.79 L340.55,260.12 L340.80,260.36 L341.05,260.55 L341.30,260.69 L341.55,260.80 L341.80,260.89 L342.05,260.97 L342.30,261.03 L342.55,261.09 L342.80,261.13 L343.05,261.18 L343.30,261.21 L343.55,261.24 L343.80,261.27 L344.05,261.29 L344.30,261.40 Z" fill="#a2a2a2" stroke="none"/>
<path d="M326.30,261.40 L326.55,261.29 L326.80,261.27 L327.05,261.24 L327.30,261.21 L327.55,261.18 L327.80,261.13 L328.05,261.09 L328.30,261.03 L328.55,260.97 L328.80,260.89 L329.05,260.80 L329.30,260.69 L329.55,260.55 L329.80,260.36 L330.05,260.12 L330.30,259.79 L330.55,259.34 L330.80,258.74 L331.05,257.91 L331.30,256.81 L331.55,255.36 L331.80,253.49 L332.05,251.12 L332.30,248.20 L332.55,244.70 L332.80,240.61 L333.05,235.98 L333.30,230.91 L333.55,225.55 L333.80,220.11 L334.05,214.84 L334.30,210.01 L334.55,205.89 L334.80,202.75 L335.05,200.77 L335.30,200.10 L335.55,200.77 L335.80,202.75 L336.05,205.89 L336.30,210.01 L336.55,214.84 L336.80,220.11 L337.05,225.55 L337.30,230.91 L337.55,235.98 L337.80,240.61 L338.05,244.70 L338.30,248.20 L338.55,251.12 L338.80,253.49 L339.05,255.36 L339.30,256.81 L339.55,257.91 L339.80,258.74 L340.05,259.34 L340.30,259.79 L340.55,260.12 L340.80,260.36 L341.05,260.55 L341.30,260.69 L341.55,260.80 L341.80,260.89 L342.05,260.97 L342.30,261.03 L342.55,261.09 L342.80,261.13 L343.05,261.18 L343.30,261.21 L343.55,261.24 L343.80,261.27 L344.05,261.29 L344.30,261.40" fill="none" stroke="#111" stroke-width="1.15" stroke-linejoin="round"/>
<path d="M328.00,334.00 L328.25,333.89 L328.50,333.87 L328.75,333.84 L329.00,333.81 L329.25,333.78 L329.50,333.73 L329.75,333.69 L330.00,333.63 L330.25,333.57 L330.50,333.49 L330.75,333.40 L331.00,333.29 L331.25,333.15 L331.50,332.96 L331.75,332.72 L332.00,332.39 L332.25,331.94 L332.50,331.33 L332.75,330.51 L333.00,329.40 L333.25,327.95 L333.50,326.07 L333.75,323.69 L334.00,320.76 L334.25,317.25 L334.50,313.15 L334.75,308.50 L335.00,303.41 L335.25,298.04 L335.50,292.58 L335.75,287.29 L336.00,282.44 L336.25,278.31 L336.50,275.16 L336.75,273.18 L337.00,272.50 L337.25,273.18 L337.50,275.16 L337.75,278.31 L338.00,282.44 L338.25,287.29 L338.50,292.58 L338.75,298.04 L339.00,303.41 L339.25,308.50 L339.50,313.15 L339.75,317.25 L340.00,320.76 L340.25,323.69 L340.50,326.07 L340.75,327.95 L341.00,329.40 L341.25,330.51 L341.50,331.33 L341.75,331.94 L342.00,332.39 L342.25,332.72 L342.50,332.96 L342.75,333.15 L343.00,333.29 L343.25,333.40 L343.50,333.49 L343.75,333.57 L344.00,333.63 L344.25,333.69 L344.50,333.73 L344.75,333.78 L345.00,333.81 L345.25,333.84 L345.50,333.87 L345.75,333.89 L346.00,334.00 Z" fill="#a2a2a2" stroke="none"/>
<path d="M328.00,334.00 L328.25,333.89 L328.50,333.87 L328.75,333.84 L329.00,333.81 L329.25,333.78 L329.50,333.73 L329.75,333.69 L330.00,333.63 L330.25,333.57 L330.50,333.49 L330.75,333.40 L331.00,333.29 L331.25,333.15 L331.50,332.96 L331.75,332.72 L332.00,332.39 L332.25,331.94 L332.50,331.33 L332.75,330.51 L333.00,329.40 L333.25,327.95 L333.50,326.07 L333.75,323.69 L334.00,320.76 L334.25,317.25 L334.50,313.15 L334.75,308.50 L335.00,303.41 L335.25,298.04 L335.50,292.58 L335.75,287.29 L336.00,282.44 L336.25,278.31 L336.50,275.16 L336.75,273.18 L337.00,272.50 L337.25,273.18 L337.50,275.16 L337.75,278.31 L338.00,282.44 L338.25,287.29 L338.50,292.58 L338.75,298.04 L339.00,303.41 L339.25,308.50 L339.50,313.15 L339.75,317.25 L340.00,320.76 L340.25,323.69 L340.50,326.07 L340.75,327.95 L341.00,329.40 L341.25,330.51 L341.50,331.33 L341.75,331.94 L342.00,332.39 L342.25,332.72 L342.50,332.96 L342.75,333.15 L343.00,333.29 L343.25,333.40 L343.50,333.49 L343.75,333.57 L344.00,333.63 L344.25,333.69 L344.50,333.73 L344.75,333.78 L345.00,333.81 L345.25,333.84 L345.50,333.87 L345.75,333.89 L346.00,334.00" fill="none" stroke="#111" stroke-width="1.15" stroke-linejoin="round"/>
<path d="M391.50,261.40 L391.75,261.35 L392.00,261.19 L392.25,260.94 L392.50,260.61 L392.75,260.20 L393.00,259.73 L393.25,259.20 L393.50,258.63 L393.75,258.03 L394.00,257.40 L394.25,256.56 L394.50,255.36 L394.75,253.89 L395.00,252.22 L395.25,250.44 L395.50,248.61 L395.75,246.82 L396.00,245.14 L396.25,243.67 L396.50,242.41 L396.75,241.31 L397.00,240.30 L397.25,239.33 L397.50,238.36 L397.75,237.33 L398.00,236.19 L398.25,234.90 L398.50,233.40 L398.75,231.47 L399.00,229.01 L399.25,226.16 L399.50,223.08 L399.75,219.92 L400.00,216.82 L400.25,213.93 L400.50,211.40 L400.75,208.88 L401.00,206.19 L401.25,203.71 L401.50,201.83 L401.75,200.93 L402.00,201.59 L402.25,203.99 L402.50,207.41 L402.75,211.13 L403.00,214.40 L403.25,217.55 L403.50,221.16 L403.75,224.86 L404.00,228.29 L404.25,231.09 L404.50,232.91 L404.75,233.38 L405.00,232.60 L405.25,230.89 L405.50,228.48 L405.75,225.60 L406.00,222.47 L406.25,219.33 L406.50,216.40 L406.75,212.92 L407.00,208.72 L407.25,204.92 L407.50,202.64 L407.75,202.84 L408.00,205.16 L408.25,208.79 L408.50,212.91 L408.75,216.74 L409.00,220.22 L409.25,224.30 L409.50,228.60 L409.75,232.68 L410.00,236.13 L410.25,238.51 L410.50,239.40 L410.75,238.97 L411.00,237.84 L411.25,236.22 L411.50,234.32 L411.75,232.37 L412.00,230.57 L412.25,229.14 L412.50,227.68 L412.75,226.20 L413.00,225.01 L413.25,224.42 L413.50,224.77 L413.75,226.10 L414.00,228.05 L414.25,230.27 L414.50,232.40 L414.75,234.62 L415.00,237.23 L415.25,240.09 L415.50,243.02 L415.75,245.88 L416.00,248.50 L416.25,250.72 L416.50,252.40 L416.75,253.74 L417.00,255.06 L417.25,256.32 L417.50,257.50 L417.75,258.57 L418.00,259.51 L418.25,260.29 L418.50,260.88 L418.75,261.26 L419.00,261.40 Z" fill="#a2a2a2" stroke="none"/>
<path d="M396.50,261.40 L396.75,261.34 L397.00,261.16 L397.25,260.87 L397.50,260.48 L397.75,260.01 L398.00,259.45 L398.25,258.81 L398.50,258.03 L398.75,256.39 L399.00,253.90 L399.25,250.75 L399.50,247.15 L399.75,243.30 L400.00,239.41 L400.25,235.65 L400.50,231.48 L400.75,226.82 L401.00,221.97 L401.25,217.24 L401.50,212.94 L401.75,209.01 L402.00,204.79 L402.25,201.33 L402.50,199.90 L402.75,201.43 L403.00,205.04 L403.25,209.23 L403.50,212.74 L403.75,216.55 L404.00,220.69 L404.25,224.70 L404.50,228.12 L404.75,230.50 L405.00,231.40 L405.25,230.95 L405.50,229.70 L405.75,227.81 L406.00,225.44 L406.25,222.75 L406.50,219.90 L406.75,217.05 L407.00,214.16 L407.25,209.99 L407.50,205.38 L407.75,201.64 L408.00,200.10 L408.25,201.29 L408.50,204.28 L408.75,208.16 L409.00,212.05 L409.25,215.46 L409.50,219.49 L409.75,223.88 L410.00,228.24 L410.25,232.17 L410.50,235.24 L410.75,237.07 L411.00,237.34 L411.25,236.67 L411.50,235.40 L411.75,233.69 L412.00,231.71 L412.25,229.62 L412.50,227.57 L412.75,225.73 L413.00,223.90 L413.25,221.76 L413.50,219.90 L413.75,218.93 L414.00,219.36 L414.25,220.99 L414.50,223.34 L414.75,225.93 L415.00,228.39 L415.25,231.27 L415.50,234.57 L415.75,238.07 L416.00,241.56 L416.25,244.81 L416.50,247.62 L416.75,249.78 L417.00,251.66 L417.25,253.46 L417.50,255.12 L417.75,256.59 L418.00,257.83 L418.25,258.79 L418.50,259.40 L418.75,259.81 L419.00,260.20 L419.25,260.54 L419.50,260.83 L419.75,261.07 L420.00,261.25 L420.25,261.36 L420.50,261.40" fill="none" stroke="#111" stroke-width="1.15" stroke-linejoin="round"/>
<path d="M456.50,261.40 L456.75,261.31 L457.00,261.15 L457.25,260.95 L457.50,260.69 L457.75,260.41 L458.00,260.09 L458.25,259.75 L458.50,259.40 L458.75,259.00 L459.00,258.53 L459.25,257.99 L459.50,257.38 L459.75,256.71 L460.00,255.99 L460.25,255.22 L460.50,254.40 L460.75,253.50 L461.00,252.47 L461.25,251.33 L461.50,250.09 L461.75,248.76 L462.00,247.35 L462.25,245.86 L462.50,244.32 L462.75,242.72 L463.00,240.94 L463.25,238.77 L463.50,236.35 L463.75,233.85 L464.00,231.42 L464.25,229.23 L464.50,227.44 L464.75,226.20 L465.00,225.31 L465.25,224.59 L465.50,223.98 L465.75,223.42 L466.00,222.84 L466.25,222.19 L466.50,221.40 L466.75,220.51 L467.00,219.56 L467.25,218.49 L467.50,217.23 L467.75,215.73 L468.00,213.50 L468.25,210.14 L468.50,206.58 L468.75,203.78 L469.00,202.00 L469.25,200.52 L469.50,199.90 L469.75,201.67 L470.00,205.46 L470.25,208.94 L470.50,210.97 L470.75,212.81 L471.00,214.39 L471.25,215.63 L471.50,216.40 L471.75,216.83 L472.00,217.12 L472.25,217.35 L472.50,217.54 L472.75,217.76 L473.00,218.07 L473.25,218.50 L473.50,219.17 L473.75,220.10 L474.00,221.28 L474.25,222.72 L474.50,224.40 L474.75,227.38 L475.00,231.80 L475.25,236.26 L475.50,239.40 L475.75,241.32 L476.00,243.00 L476.25,244.33 L476.50,245.20 L476.75,245.62 L477.00,245.92 L477.25,246.17 L477.50,246.37 L477.75,246.54 L478.00,246.68 L478.25,246.82 L478.50,246.95 L478.75,247.07 L479.00,247.18 L479.25,247.27 L479.50,247.35 L479.75,247.44 L480.00,247.52 L480.25,247.62 L480.50,247.73 L480.75,247.87 L481.00,248.03 L481.25,248.23 L481.50,248.45 L481.75,248.70 L482.00,248.99 L482.25,249.30 L482.50,249.64 L482.75,250.00 L483.00,250.40 L483.25,250.90 L483.50,251.55 L483.75,252.31 L484.00,253.11 L484.25,253.90 L484.50,254.65 L484.75,255.29 L485.00,255.82 L485.25,256.30 L485.50,256.75 L485.75,257.18 L486.00,257.59 L486.25,258.00 L486.50,258.40 L486.75,258.80 L487.00,259.20 L487.25,259.59 L487.50,259.97 L487.75,260.34 L488.00,260.70 L488.25,261.06 L488.50,261.40 Z" fill="#a2a2a2" stroke="none"/>
<path d="M458.50,261.40 L458.75,261.23 L459.00,261.04 L459.25,260.83 L459.50,260.60 L459.75,260.35 L460.00,260.09 L460.25,259.81 L460.50,259.52 L460.75,259.22 L461.00,258.90 L461.25,258.57 L461.50,258.24 L461.75,257.88 L462.00,257.52 L462.25,257.13 L462.50,256.72 L462.75,256.29 L463.00,255.84 L463.25,255.35 L463.50,254.84 L463.75,254.30 L464.00,253.72 L464.25,253.10 L464.50,252.45 L464.75,251.76 L465.00,250.92 L465.25,249.93 L465.50,248.80 L465.75,247.55 L466.00,246.21 L466.25,244.80 L466.50,243.33 L466.75,241.85 L467.00,240.36 L467.25,238.88 L467.50,237.45 L467.75,236.06 L468.00,234.61 L468.25,233.10 L468.50,231.56 L468.75,230.01 L469.00,228.47 L469.25,226.97 L469.50,225.53 L469.75,224.16 L470.00,222.90 L470.25,221.58 L470.50,220.17 L470.75,218.87 L471.00,217.89 L471.25,217.41 L471.50,217.77 L471.75,219.10 L472.00,221.09 L472.25,223.40 L472.50,225.71 L472.75,227.70 L473.00,229.03 L473.25,229.37 L473.50,228.37 L473.75,226.25 L474.00,223.38 L474.25,220.11 L474.50,216.83 L474.75,213.91 L475.00,211.18 L475.25,207.99 L475.50,204.85 L475.75,202.29 L476.00,200.84 L476.25,201.05 L476.50,202.95 L476.75,205.94 L477.00,209.42 L477.25,212.78 L477.50,215.40 L477.75,217.56 L478.00,219.81 L478.25,221.93 L478.50,223.72 L478.75,224.94 L479.00,225.40 L479.25,224.85 L479.50,223.44 L479.75,221.54 L480.00,219.51 L480.25,217.70 L480.50,216.10 L480.75,214.30 L481.00,212.67 L481.25,211.60 L481.50,211.53 L481.75,212.85 L482.00,215.22 L482.25,218.16 L482.50,221.20 L482.75,223.92 L483.00,227.01 L483.25,230.53 L483.50,233.96 L483.75,236.78 L484.00,238.46 L484.25,238.83 L484.50,239.00 L484.75,239.12 L485.00,239.22 L485.25,239.30 L485.50,239.40 L485.75,239.49 L486.00,239.57 L486.25,239.65 L486.50,239.74 L486.75,239.87 L487.00,240.17 L487.25,240.85 L487.50,241.81 L487.75,242.98 L488.00,244.24 L488.25,245.51 L488.50,246.69 L488.75,247.68 L489.00,248.40 L489.25,248.95 L489.50,249.50 L489.75,250.02 L490.00,250.51 L490.25,250.95 L490.50,251.32 L490.75,251.61 L491.00,251.81 L491.25,251.90 L491.50,251.87 L491.75,251.76 L492.00,251.59 L492.25,251.40 L492.50,251.21 L492.75,251.04 L493.00,250.93 L493.25,250.91 L493.50,251.19 L493.75,251.78 L494.00,252.59 L494.25,253.51 L494.50,254.43 L494.75,255.26 L495.00,255.98 L495.25,256.74 L495.50,257.48 L495.75,258.15 L496.00,258.70 L496.25,259.16 L496.50,259.60 L496.75,260.02 L497.00,260.40 L497.25,260.73 L497.50,261.02 L497.75,261.24 L498.00,261.40" fill="none" stroke="#111" stroke-width="1.15" stroke-linejoin="round"/>
<path d="M393.00,334.00 L393.25,333.87 L393.50,333.51 L393.75,332.95 L394.00,332.20 L394.25,331.31 L394.50,330.29 L394.75,329.18 L395.00,328.00 L395.25,326.35 L395.50,323.98 L395.75,321.12 L396.00,318.01 L396.25,314.89 L396.50,312.00 L396.75,309.13 L397.00,306.12 L397.25,303.24 L397.50,300.79 L397.75,298.86 L398.00,297.02 L398.25,295.75 L398.50,295.58 L398.75,296.34 L399.00,297.70 L399.25,299.40 L399.50,301.14 L399.75,302.67 L400.00,303.71 L400.25,303.98 L400.50,303.36 L400.75,302.04 L401.00,300.22 L401.25,298.14 L401.50,296.00 L401.75,293.31 L402.00,289.77 L402.25,285.92 L402.50,282.30 L402.75,279.43 L403.00,277.32 L403.25,275.33 L403.50,273.91 L403.75,273.53 L404.00,274.62 L404.25,276.95 L404.50,280.12 L404.75,283.72 L405.00,287.35 L405.25,290.64 L405.50,294.49 L405.75,299.02 L406.00,303.71 L406.25,308.05 L406.50,311.53 L406.75,313.62 L407.00,313.94 L407.25,313.31 L407.50,312.26 L407.75,311.06 L408.00,310.00 L408.25,308.99 L408.50,307.84 L408.75,306.76 L409.00,305.92 L409.25,305.51 L409.50,305.76 L409.75,306.68 L410.00,308.07 L410.25,309.70 L410.50,311.33 L410.75,312.76 L411.00,314.01 L411.25,315.42 L411.50,316.81 L411.75,317.99 L412.00,318.78 L412.25,318.99 L412.50,318.63 L412.75,317.89 L413.00,316.91 L413.25,315.85 L413.50,314.87 L413.75,314.11 L414.00,313.58 L414.25,313.05 L414.50,312.58 L414.75,312.22 L415.00,312.02 L415.25,312.18 L415.50,313.20 L415.75,314.88 L416.00,316.96 L416.25,319.17 L416.50,321.26 L416.75,323.06 L417.00,324.87 L417.25,326.71 L417.50,328.58 L417.75,330.48 L418.00,332.42 Z" fill="#a2a2a2" stroke="none"/>
<path d="M393.60,334.00 L393.85,333.84 L394.10,333.37 L394.35,332.66 L394.60,331.75 L394.85,330.68 L395.10,329.49 L395.35,328.06 L395.60,325.76 L395.85,322.81 L396.10,319.50 L396.35,316.13 L396.60,313.00 L396.85,309.88 L397.10,306.58 L397.35,303.45 L397.60,300.83 L397.85,298.84 L398.10,297.00 L398.35,295.74 L398.60,295.57 L398.85,296.24 L399.10,297.44 L399.35,298.94 L399.60,300.48 L399.85,301.83 L400.10,302.74 L400.35,302.98 L400.60,302.47 L400.85,301.34 L401.10,299.74 L401.35,297.82 L401.60,295.71 L401.85,293.54 L402.10,290.50 L402.35,286.68 L402.60,282.79 L402.85,279.52 L403.10,276.91 L403.35,274.41 L403.60,272.86 L403.85,273.01 L404.10,274.75 L404.35,277.63 L404.60,281.20 L404.85,285.03 L405.10,288.69 L405.35,292.08 L405.60,296.23 L405.85,300.79 L406.10,305.29 L406.35,309.22 L406.60,312.11 L406.85,313.46 L407.10,313.31 L407.35,312.62 L407.60,311.62 L407.85,310.48 L408.10,309.38 L408.35,308.39 L408.60,307.19 L408.85,305.98 L409.10,305.00 L409.35,304.52 L409.60,304.79 L409.85,305.82 L410.10,307.34 L410.35,309.10 L410.60,310.82 L410.85,312.27 L411.10,313.78 L411.35,315.44 L411.60,317.00 L411.85,318.25 L412.10,318.93 L412.35,318.87 L412.60,318.19 L412.85,317.11 L413.10,315.82 L413.35,314.56 L413.60,313.52 L413.85,312.91 L414.10,312.49 L414.35,312.10 L414.60,311.79 L414.85,311.58 L415.10,311.50 L415.35,312.03 L415.60,313.42 L415.85,315.39 L416.10,317.67 L416.35,319.96 L416.60,322.00 L416.85,323.97 L417.10,326.10 L417.35,328.17 L417.60,329.95 L417.85,331.21 L418.10,332.21 L418.35,333.07 L418.60,333.70" fill="none" stroke="#111" stroke-width="1.15" stroke-linejoin="round"/>
<path d="M454.00,334.00 L454.25,333.98 L454.50,333.93 L454.75,333.84 L455.00,333.72 L455.25,333.57 L455.50,333.40 L455.75,333.21 L456.00,332.99 L456.25,332.76 L456.50,332.52 L456.75,332.26 L457.00,332.00 L457.25,331.68 L457.50,331.28 L457.75,330.79 L458.00,330.22 L458.25,329.59 L458.50,328.90 L458.75,328.16 L459.00,327.37 L459.25,326.56 L459.50,325.72 L459.75,324.86 L460.00,324.00 L460.25,323.10 L460.50,322.11 L460.75,321.06 L461.00,319.94 L461.25,318.75 L461.50,317.51 L461.75,316.20 L462.00,314.85 L462.25,313.45 L462.50,312.00 L462.75,310.49 L463.00,308.89 L463.25,307.19 L463.50,305.39 L463.75,303.48 L464.00,301.47 L464.25,299.34 L464.50,297.06 L464.75,294.40 L465.00,291.47 L465.25,288.40 L465.50,285.37 L465.75,282.53 L466.00,279.62 L466.25,276.42 L466.50,273.95 L466.75,273.23 L467.00,274.19 L467.25,276.18 L467.50,278.77 L467.75,281.52 L468.00,284.00 L468.25,286.55 L468.50,289.56 L468.75,292.66 L469.00,295.49 L469.25,297.69 L469.50,298.88 L469.75,298.66 L470.00,296.88 L470.25,294.24 L470.50,291.47 L470.75,289.30 L471.00,287.90 L471.25,286.57 L471.50,285.53 L471.75,285.02 L472.00,285.66 L472.25,287.93 L472.50,291.07 L472.75,294.32 L473.00,297.03 L473.25,299.85 L473.50,302.82 L473.75,305.73 L474.00,308.37 L474.25,310.54 L474.50,312.00 L474.75,313.02 L475.00,313.97 L475.25,314.78 L475.50,315.43 L475.75,315.85 L476.00,316.00 L476.25,315.71 L476.50,315.01 L476.75,314.16 L477.00,313.41 L477.25,313.01 L477.50,313.20 L477.75,313.94 L478.00,315.05 L478.25,316.34 L478.50,317.66 L478.75,318.81 L479.00,319.77 L479.25,320.78 L479.50,321.78 L479.75,322.75 L480.00,323.64 L480.25,324.40 L480.50,325.00 L480.75,325.46 L481.00,325.87 L481.25,326.22 L481.50,326.54 L481.75,326.84 L482.00,327.14 L482.25,327.44 L482.50,327.75 L482.75,328.05 L483.00,328.34 L483.25,328.63 L483.50,328.91 L483.75,329.19 L484.00,329.46 L484.25,329.73 L484.50,330.00 L484.75,330.26 L485.00,330.53 L485.25,330.79 L485.50,331.04 L485.75,331.29 L486.00,331.54 L486.25,331.77 L486.50,332.00 L486.75,332.22 L487.00,332.44 L487.25,332.65 L487.50,332.86 L487.75,333.06 L488.00,333.26 L488.25,333.46 L488.50,333.64 L488.75,333.82 L489.00,334.00 Z" fill="#a2a2a2" stroke="none"/>
<path d="M455.50,334.00 L455.75,333.84 L456.00,333.58 L456.25,333.26 L456.50,332.88 L456.75,332.46 L457.00,332.00 L457.25,331.46 L457.50,330.78 L457.75,329.99 L458.00,329.14 L458.25,328.25 L458.50,327.35 L458.75,326.47 L459.00,325.59 L459.25,324.70 L459.50,323.79 L459.75,322.85 L460.00,321.88 L460.25,320.87 L460.50,319.81 L460.75,318.69 L461.00,317.52 L461.25,316.28 L461.50,314.96 L461.75,313.50 L462.00,311.91 L462.25,310.19 L462.50,308.37 L462.75,306.46 L463.00,304.47 L463.25,302.42 L463.50,300.23 L463.75,297.81 L464.00,295.24 L464.25,292.60 L464.50,289.98 L464.75,287.48 L465.00,285.04 L465.25,282.51 L465.50,280.10 L465.75,278.01 L466.00,276.38 L466.25,274.83 L466.50,273.65 L466.75,273.33 L467.00,274.29 L467.25,276.33 L467.50,279.04 L467.75,282.06 L468.00,284.98 L468.25,287.46 L468.50,290.13 L468.75,293.06 L469.00,295.84 L469.25,298.05 L469.50,299.28 L469.75,299.14 L470.00,297.76 L470.25,295.59 L470.50,293.10 L470.75,290.75 L471.00,289.00 L471.25,287.65 L471.50,286.32 L471.75,285.17 L472.00,284.41 L472.25,284.25 L472.50,285.81 L472.75,288.83 L473.00,292.38 L473.25,295.51 L473.50,297.78 L473.75,299.87 L474.00,301.84 L474.25,303.73 L474.50,305.72 L474.75,307.95 L475.00,310.15 L475.25,312.01 L475.50,313.26 L475.75,313.59 L476.00,313.30 L476.25,312.77 L476.50,312.20 L476.75,311.70 L477.00,311.11 L477.25,310.56 L477.50,310.23 L477.75,310.49 L478.00,311.99 L478.25,314.16 L478.50,316.30 L478.75,317.99 L479.00,319.73 L479.25,321.26 L479.50,322.20 L479.75,322.68 L480.00,323.06 L480.25,323.38 L480.50,323.63 L480.75,323.83 L481.00,324.00 L481.25,324.13 L481.50,324.22 L481.75,324.30 L482.00,324.37 L482.25,324.46 L482.50,324.57 L482.75,324.75 L483.00,325.21 L483.25,325.97 L483.50,326.86 L483.75,327.74 L484.00,328.45 L484.25,328.85 L484.50,329.10 L484.75,329.30 L485.00,329.48 L485.25,329.63 L485.50,329.76 L485.75,329.88 L486.00,330.00 L486.25,330.10 L486.50,330.19 L486.75,330.26 L487.00,330.33 L487.25,330.40 L487.50,330.48 L487.75,330.58 L488.00,330.70 L488.25,330.90 L488.50,331.19 L488.75,331.53 L489.00,331.89 L489.25,332.22 L489.50,332.50 L489.75,332.73 L490.00,332.95 L490.25,333.16 L490.50,333.36 L490.75,333.55 L491.00,333.71 L491.25,333.87 L491.50,334.00" fill="none" stroke="#111" stroke-width="1.15" stroke-linejoin="round"/>
<line x1="277.40" y1="261.40" x2="356.20" y2="261.40" stroke="#222" stroke-width="1.0" />
<line x1="280.40" y1="261.90" x2="280.40" y2="263.00" stroke="#777" stroke-width="0.6" />
<line x1="284.80" y1="261.90" x2="284.80" y2="263.00" stroke="#777" stroke-width="0.6" />
<line x1="289.20" y1="261.90" x2="289.20" y2="263.00" stroke="#777" stroke-width="0.6" />
<line x1="293.60" y1="261.90" x2="293.60" y2="263.00" stroke="#777" stroke-width="0.6" />
<line x1="298.00" y1="261.90" x2="298.00" y2="263.00" stroke="#777" stroke-width="0.6" />
<line x1="302.40" y1="261.90" x2="302.40" y2="263.00" stroke="#777" stroke-width="0.6" />
<line x1="306.80" y1="261.90" x2="306.80" y2="263.00" stroke="#777" stroke-width="0.6" />
<line x1="311.20" y1="261.90" x2="311.20" y2="263.00" stroke="#777" stroke-width="0.6" />
<line x1="315.60" y1="261.90" x2="315.60" y2="263.00" stroke="#777" stroke-width="0.6" />
<line x1="320.00" y1="261.90" x2="320.00" y2="263.00" stroke="#777" stroke-width="0.6" />
<line x1="324.40" y1="261.90" x2="324.40" y2="263.00" stroke="#777" stroke-width="0.6" />
<line x1="328.80" y1="261.90" x2="328.80" y2="263.00" stroke="#777" stroke-width="0.6" />
<line x1="333.20" y1="261.90" x2="333.20" y2="263.00" stroke="#777" stroke-width="0.6" />
<line x1="337.60" y1="261.90" x2="337.60" y2="263.00" stroke="#777" stroke-width="0.6" />
<line x1="342.00" y1="261.90" x2="342.00" y2="263.00" stroke="#777" stroke-width="0.6" />
<line x1="346.40" y1="261.90" x2="346.40" y2="263.00" stroke="#777" stroke-width="0.6" />
<line x1="350.80" y1="261.90" x2="350.80" y2="263.00" stroke="#777" stroke-width="0.6" />
<line x1="358.90" y1="261.40" x2="437.00" y2="261.40" stroke="#222" stroke-width="1.0" />
<line x1="361.90" y1="261.90" x2="361.90" y2="263.00" stroke="#777" stroke-width="0.6" />
<line x1="366.30" y1="261.90" x2="366.30" y2="263.00" stroke="#777" stroke-width="0.6" />
<line x1="370.70" y1="261.90" x2="370.70" y2="263.00" stroke="#777" stroke-width="0.6" />
<line x1="375.10" y1="261.90" x2="375.10" y2="263.00" stroke="#777" stroke-width="0.6" />
<line x1="379.50" y1="261.90" x2="379.50" y2="263.00" stroke="#777" stroke-width="0.6" />
<line x1="383.90" y1="261.90" x2="383.90" y2="263.00" stroke="#777" stroke-width="0.6" />
<line x1="388.30" y1="261.90" x2="388.30" y2="263.00" stroke="#777" stroke-width="0.6" />
<line x1="392.70" y1="261.90" x2="392.70" y2="263.00" stroke="#777" stroke-width="0.6" />
<line x1="397.10" y1="261.90" x2="397.10" y2="263.00" stroke="#777" stroke-width="0.6" />
<line x1="401.50" y1="261.90" x2="401.50" y2="263.00" stroke="#777" stroke-width="0.6" />
<line x1="405.90" y1="261.90" x2="405.90" y2="263.00" stroke="#777" stroke-width="0.6" />
<line x1="410.30" y1="261.90" x2="410.30" y2="263.00" stroke="#777" stroke-width="0.6" />
<line x1="414.70" y1="261.90" x2="414.70" y2="263.00" stroke="#777" stroke-width="0.6" />
<line x1="419.10" y1="261.90" x2="419.10" y2="263.00" stroke="#777" stroke-width="0.6" />
<line x1="423.50" y1="261.90" x2="423.50" y2="263.00" stroke="#777" stroke-width="0.6" />
<line x1="427.90" y1="261.90" x2="427.90" y2="263.00" stroke="#777" stroke-width="0.6" />
<line x1="432.30" y1="261.90" x2="432.30" y2="263.00" stroke="#777" stroke-width="0.6" />
<line x1="440.00" y1="261.40" x2="518.00" y2="261.40" stroke="#222" stroke-width="1.0" />
<line x1="443.00" y1="261.90" x2="443.00" y2="263.00" stroke="#777" stroke-width="0.6" />
<line x1="447.40" y1="261.90" x2="447.40" y2="263.00" stroke="#777" stroke-width="0.6" />
<line x1="451.80" y1="261.90" x2="451.80" y2="263.00" stroke="#777" stroke-width="0.6" />
<line x1="456.20" y1="261.90" x2="456.20" y2="263.00" stroke="#777" stroke-width="0.6" />
<line x1="460.60" y1="261.90" x2="460.60" y2="263.00" stroke="#777" stroke-width="0.6" />
<line x1="465.00" y1="261.90" x2="465.00" y2="263.00" stroke="#777" stroke-width="0.6" />
<line x1="469.40" y1="261.90" x2="469.40" y2="263.00" stroke="#777" stroke-width="0.6" />
<line x1="473.80" y1="261.90" x2="473.80" y2="263.00" stroke="#777" stroke-width="0.6" />
<line x1="478.20" y1="261.90" x2="478.20" y2="263.00" stroke="#777" stroke-width="0.6" />
<line x1="482.60" y1="261.90" x2="482.60" y2="263.00" stroke="#777" stroke-width="0.6" />
<line x1="487.00" y1="261.90" x2="487.00" y2="263.00" stroke="#777" stroke-width="0.6" />
<line x1="491.40" y1="261.90" x2="491.40" y2="263.00" stroke="#777" stroke-width="0.6" />
<line x1="495.80" y1="261.90" x2="495.80" y2="263.00" stroke="#777" stroke-width="0.6" />
<line x1="500.20" y1="261.90" x2="500.20" y2="263.00" stroke="#777" stroke-width="0.6" />
<line x1="504.60" y1="261.90" x2="504.60" y2="263.00" stroke="#777" stroke-width="0.6" />
<line x1="509.00" y1="261.90" x2="509.00" y2="263.00" stroke="#777" stroke-width="0.6" />
<line x1="513.40" y1="261.90" x2="513.40" y2="263.00" stroke="#777" stroke-width="0.6" />
<line x1="277.40" y1="334.00" x2="356.20" y2="334.00" stroke="#222" stroke-width="1.0" />
<line x1="280.40" y1="334.50" x2="280.40" y2="335.60" stroke="#777" stroke-width="0.6" />
<line x1="284.80" y1="334.50" x2="284.80" y2="335.60" stroke="#777" stroke-width="0.6" />
<line x1="289.20" y1="334.50" x2="289.20" y2="335.60" stroke="#777" stroke-width="0.6" />
<line x1="293.60" y1="334.50" x2="293.60" y2="335.60" stroke="#777" stroke-width="0.6" />
<line x1="298.00" y1="334.50" x2="298.00" y2="335.60" stroke="#777" stroke-width="0.6" />
<line x1="302.40" y1="334.50" x2="302.40" y2="335.60" stroke="#777" stroke-width="0.6" />
<line x1="306.80" y1="334.50" x2="306.80" y2="335.60" stroke="#777" stroke-width="0.6" />
<line x1="311.20" y1="334.50" x2="311.20" y2="335.60" stroke="#777" stroke-width="0.6" />
<line x1="315.60" y1="334.50" x2="315.60" y2="335.60" stroke="#777" stroke-width="0.6" />
<line x1="320.00" y1="334.50" x2="320.00" y2="335.60" stroke="#777" stroke-width="0.6" />
<line x1="324.40" y1="334.50" x2="324.40" y2="335.60" stroke="#777" stroke-width="0.6" />
<line x1="328.80" y1="334.50" x2="328.80" y2="335.60" stroke="#777" stroke-width="0.6" />
<line x1="333.20" y1="334.50" x2="333.20" y2="335.60" stroke="#777" stroke-width="0.6" />
<line x1="337.60" y1="334.50" x2="337.60" y2="335.60" stroke="#777" stroke-width="0.6" />
<line x1="342.00" y1="334.50" x2="342.00" y2="335.60" stroke="#777" stroke-width="0.6" />
<line x1="346.40" y1="334.50" x2="346.40" y2="335.60" stroke="#777" stroke-width="0.6" />
<line x1="350.80" y1="334.50" x2="350.80" y2="335.60" stroke="#777" stroke-width="0.6" />
<line x1="358.90" y1="334.00" x2="437.00" y2="334.00" stroke="#222" stroke-width="1.0" />
<line x1="361.90" y1="334.50" x2="361.90" y2="335.60" stroke="#777" stroke-width="0.6" />
<line x1="366.30" y1="334.50" x2="366.30" y2="335.60" stroke="#777" stroke-width="0.6" />
<line x1="370.70" y1="334.50" x2="370.70" y2="335.60" stroke="#777" stroke-width="0.6" />
<line x1="375.10" y1="334.50" x2="375.10" y2="335.60" stroke="#777" stroke-width="0.6" />
<line x1="379.50" y1="334.50" x2="379.50" y2="335.60" stroke="#777" stroke-width="0.6" />
<line x1="383.90" y1="334.50" x2="383.90" y2="335.60" stroke="#777" stroke-width="0.6" />
<line x1="388.30" y1="334.50" x2="388.30" y2="335.60" stroke="#777" stroke-width="0.6" />
<line x1="392.70" y1="334.50" x2="392.70" y2="335.60" stroke="#777" stroke-width="0.6" />
<line x1="397.10" y1="334.50" x2="397.10" y2="335.60" stroke="#777" stroke-width="0.6" />
<line x1="401.50" y1="334.50" x2="401.50" y2="335.60" stroke="#777" stroke-width="0.6" />
<line x1="405.90" y1="334.50" x2="405.90" y2="335.60" stroke="#777" stroke-width="0.6" />
<line x1="410.30" y1="334.50" x2="410.30" y2="335.60" stroke="#777" stroke-width="0.6" />
<line x1="414.70" y1="334.50" x2="414.70" y2="335.60" stroke="#777" stroke-width="0.6" />
<line x1="419.10" y1="334.50" x2="419.10" y2="335.60" stroke="#777" stroke-width="0.6" />
<line x1="423.50" y1="334.50" x2="423.50" y2="335.60" stroke="#777" stroke-width="0.6" />
<line x1="427.90" y1="334.50" x2="427.90" y2="335.60" stroke="#777" stroke-width="0.6" />
<line x1="432.30" y1="334.50" x2="432.30" y2="335.60" stroke="#777" stroke-width="0.6" />
<line x1="440.00" y1="334.00" x2="518.00" y2="334.00" stroke="#222" stroke-width="1.0" />
<line x1="443.00" y1="334.50" x2="443.00" y2="335.60" stroke="#777" stroke-width="0.6" />
<line x1="447.40" y1="334.50" x2="447.40" y2="335.60" stroke="#777" stroke-width="0.6" />
<line x1="451.80" y1="334.50" x2="451.80" y2="335.60" stroke="#777" stroke-width="0.6" />
<line x1="456.20" y1="334.50" x2="456.20" y2="335.60" stroke="#777" stroke-width="0.6" />
<line x1="460.60" y1="334.50" x2="460.60" y2="335.60" stroke="#777" stroke-width="0.6" />
<line x1="465.00" y1="334.50" x2="465.00" y2="335.60" stroke="#777" stroke-width="0.6" />
<line x1="469.40" y1="334.50" x2="469.40" y2="335.60" stroke="#777" stroke-width="0.6" />
<line x1="473.80" y1="334.50" x2="473.80" y2="335.60" stroke="#777" stroke-width="0.6" />
<line x1="478.20" y1="334.50" x2="478.20" y2="335.60" stroke="#777" stroke-width="0.6" />
<line x1="482.60" y1="334.50" x2="482.60" y2="335.60" stroke="#777" stroke-width="0.6" />
<line x1="487.00" y1="334.50" x2="487.00" y2="335.60" stroke="#777" stroke-width="0.6" />
<line x1="491.40" y1="334.50" x2="491.40" y2="335.60" stroke="#777" stroke-width="0.6" />
<line x1="495.80" y1="334.50" x2="495.80" y2="335.60" stroke="#777" stroke-width="0.6" />
<line x1="500.20" y1="334.50" x2="500.20" y2="335.60" stroke="#777" stroke-width="0.6" />
<line x1="504.60" y1="334.50" x2="504.60" y2="335.60" stroke="#777" stroke-width="0.6" />
<line x1="509.00" y1="334.50" x2="509.00" y2="335.60" stroke="#777" stroke-width="0.6" />
<line x1="513.40" y1="334.50" x2="513.40" y2="335.60" stroke="#777" stroke-width="0.6" />
<line x1="270.60" y1="303.00" x2="270.60" y2="342.00" stroke="#111" stroke-width="1.2" />
<line x1="270.00" y1="342.00" x2="309.50" y2="342.00" stroke="#111" stroke-width="1.2" />
<path d="M270.6,297.4 L267.3,305.6 L273.9,305.6 Z" fill="#111"/>
<path d="M315.9,342.0 L307.6,338.3 L307.6,345.7 Z" fill="#111"/>
<text transform="translate(267.80,325.50) scale(1,1.05) rotate(-90)" font-size="8.5" text-anchor="middle" font-weight="normal" fill="#161616" stroke="#161616" stroke-width="0.08">% of Max</text>
<text transform="translate(276.50,350.40) scale(1,1.1)" font-size="8.5" text-anchor="start" font-weight="normal" fill="#161616" stroke="#161616" stroke-width="0.08">CFSE</text>
</g></svg>
</body></html>
